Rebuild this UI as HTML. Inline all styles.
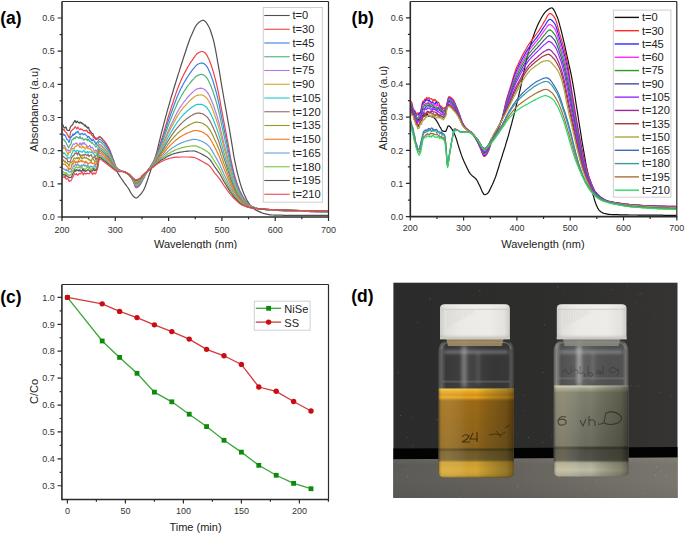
<!DOCTYPE html>
<html><head><meta charset="utf-8"><style>
html,body{margin:0;padding:0;background:#fff;}
body{width:685px;height:535px;position:relative;overflow:hidden;font-family:"Liberation Sans", sans-serif;}
</style></head><body>
<svg width="685" height="535" viewBox="0 0 685 535" style="position:absolute;left:0;top:0"><defs></defs><rect width="685" height="535" fill="#fff"/><g><g font-family='"Liberation Sans", sans-serif' font-weight="bold" font-size="17.5" fill="#000"><text x="0.2" y="23.8">(a)</text><text x="351.6" y="23.8">(b)</text><text x="0.2" y="302.6">(c)</text><text x="351.2" y="302.4">(d)</text></g><clipPath id="clipA"><rect x="62.5" y="2" width="265.7" height="214.3"/></clipPath><g clip-path="url(#clipA)" fill="none" stroke-width="1.2" stroke-linejoin="round"><path d="M62.0 123.5L62.5 124.3L63.1 125.4L63.6 126.9L64.1 127.6L64.7 128.0L65.2 128.0L65.7 126.9L66.3 127.6L66.8 129.7L67.3 130.3L67.9 130.3L68.4 130.4L68.9 130.7L69.5 130.3L70.0 128.1L70.5 127.0L71.1 126.2L71.6 125.6L72.1 125.3L72.7 124.6L73.2 123.3L73.7 122.4L74.3 121.7L74.8 120.6L75.3 120.8L75.9 122.4L76.4 122.7L76.9 121.4L77.5 121.2L78.0 122.2L78.5 122.8L79.1 122.6L79.6 123.0L80.1 122.1L80.7 122.4L81.2 123.3L81.7 122.6L82.3 123.3L82.8 124.2L83.3 124.1L83.9 124.4L84.4 125.6L84.9 126.0L85.5 125.0L86.0 126.4L86.5 127.2L87.1 126.8L87.6 128.2L88.1 127.6L88.7 127.4L89.2 130.0L89.7 131.1L90.2 130.8L90.8 131.7L91.3 132.4L91.8 133.1L92.4 133.7L92.9 133.5L93.4 135.1L94.0 136.6L94.5 137.2L95.0 137.9L95.6 138.8L96.1 139.6L96.6 139.2L97.2 138.2L97.7 138.4L98.2 137.8L98.8 137.1L99.3 136.7L99.8 136.8L100.4 137.1L100.9 137.4L101.4 137.9L102.0 138.5L102.5 139.1L103.0 139.8L103.6 140.4L104.1 141.0L104.6 141.7L105.2 142.4L105.7 143.1L106.2 143.9L106.8 144.8L107.3 145.7L107.8 146.7L108.4 147.6L108.9 148.7L109.4 149.8L110.0 150.9L110.5 152.2L111.0 153.5L111.6 154.9L112.1 156.4L112.6 157.9L113.2 159.4L113.7 160.9L114.2 162.7L114.8 164.6L115.3 166.6L116.4 169.9L117.4 172.2L118.5 174.2L119.6 175.9L120.6 177.5L121.7 179.0L122.8 180.7L123.8 182.2L124.9 183.6L126.0 185.1L127.0 186.5L128.1 188.0L129.2 189.7L130.2 191.6L131.3 193.5L132.4 195.2L133.4 196.3L134.5 197.3L135.6 198.0L136.6 198.0L137.7 197.3L138.8 196.2L139.8 195.1L140.9 194.0L141.9 192.6L143.0 191.0L144.1 189.1L145.1 186.7L146.2 183.8L147.3 180.8L148.3 177.6L149.4 174.2L150.5 171.0L151.5 168.2L152.6 165.3L153.7 162.2L154.7 159.1L155.8 155.6L156.9 151.7L157.9 147.3L159.0 142.8L160.1 138.4L161.1 134.2L162.2 130.0L163.3 125.9L164.3 121.8L165.4 117.8L166.5 113.9L167.5 110.1L168.6 106.3L169.7 102.6L170.7 98.9L171.8 95.3L172.9 91.7L173.9 88.2L175.0 84.7L176.1 81.2L177.1 77.8L178.2 74.4L179.3 71.1L180.3 67.7L181.4 64.3L182.5 61.0L183.5 57.7L184.6 54.5L185.7 51.2L186.7 48.0L187.8 44.8L188.9 41.7L189.9 38.8L191.0 36.2L192.1 33.8L193.1 31.4L194.2 29.1L195.2 27.0L196.3 25.2L197.4 23.8L198.4 22.8L199.5 22.0L200.6 21.2L201.6 20.7L202.7 20.3L203.8 20.4L204.8 21.1L205.9 22.2L207.0 23.7L208.0 25.3L209.1 27.2L210.2 29.7L211.2 32.7L212.3 36.2L213.4 39.9L214.4 44.3L215.5 49.6L216.6 55.5L217.6 61.6L218.7 67.7L219.8 73.9L220.8 80.4L221.9 86.8L223.0 93.0L224.0 99.0L225.1 104.9L226.2 110.9L227.2 116.9L228.3 122.9L229.4 129.0L230.4 135.2L231.5 141.6L232.6 148.3L233.6 154.8L234.7 160.6L235.8 165.7L236.8 170.5L237.9 174.8L239.0 178.9L240.0 182.6L241.1 186.1L242.2 189.3L243.2 192.1L244.3 194.7L245.4 197.1L246.4 199.3L247.5 201.2L248.6 202.9L249.6 204.4L250.7 205.7L251.7 206.9L252.8 207.9L253.9 208.8L254.9 209.5L256.0 210.1L257.1 210.6L258.1 211.1L259.2 211.6L260.3 212.1L261.3 212.6L262.4 213.0L263.5 213.4L264.5 213.7L265.6 213.9L266.7 214.2L267.7 214.4L268.8 214.6L269.9 214.8L270.9 214.9L272.0 215.0L273.1 215.0L274.1 215.1L275.2 215.1L277.3 215.1L279.5 215.2L281.6 215.2L283.7 215.3L285.9 215.3L288.0 215.3L290.1 215.3L292.3 215.3L294.4 215.3L296.5 215.3L298.7 215.3L300.8 215.3L302.9 215.3L305.0 215.3L307.2 215.3L309.3 215.3L311.4 215.3L313.6 215.3L315.7 215.3L317.8 215.3L320.0 215.3L322.1 215.3L324.2 215.3L326.4 215.3L328.5 215.3" stroke="#505050"/><path d="M62.0 128.2L62.5 129.8L63.1 130.1L63.6 129.0L64.1 129.6L64.7 130.7L65.2 131.6L65.7 132.2L66.3 132.5L66.8 133.2L67.3 134.8L67.9 135.1L68.4 136.2L68.9 137.6L69.5 137.8L70.0 135.4L70.5 132.2L71.1 131.3L71.6 130.5L72.1 130.1L72.7 129.5L73.2 129.1L73.7 128.9L74.3 128.3L74.8 127.0L75.3 126.6L75.9 127.5L76.4 128.3L76.9 128.8L77.5 127.7L78.0 127.2L78.5 128.3L79.1 128.9L79.6 129.7L80.1 129.7L80.7 128.7L81.2 129.0L81.7 129.7L82.3 129.7L82.8 129.7L83.3 130.6L83.9 131.0L84.4 130.8L84.9 130.4L85.5 130.6L86.0 131.0L86.5 130.0L87.1 130.8L87.6 132.3L88.1 132.3L88.7 132.3L89.2 133.3L89.7 133.4L90.2 132.1L90.8 132.9L91.3 134.6L91.8 135.5L92.4 135.7L92.9 136.3L93.4 137.7L94.0 136.9L94.5 137.6L95.0 138.4L95.6 137.6L96.1 138.5L96.6 139.2L97.2 138.0L97.7 139.1L98.2 138.3L98.8 137.5L99.3 137.1L99.8 137.1L100.4 137.4L100.9 137.7L101.4 138.1L102.0 138.7L102.5 139.2L103.0 139.8L103.6 140.4L104.1 141.0L104.6 141.7L105.2 142.3L105.7 143.1L106.2 143.9L106.8 144.8L107.3 145.7L107.8 146.6L108.4 147.6L108.9 148.7L109.4 149.8L110.0 151.0L110.5 152.4L111.0 153.8L111.6 155.2L112.1 156.7L112.6 158.2L113.2 159.6L113.7 160.9L114.2 162.3L114.8 163.8L115.3 165.2L116.4 167.2L117.4 168.4L118.5 169.3L119.6 169.9L120.6 170.5L121.7 170.9L122.8 171.3L123.8 171.8L124.9 172.4L126.0 173.0L127.0 173.6L128.1 174.4L129.2 175.4L130.2 176.6L131.3 178.0L132.4 179.6L133.4 181.7L134.5 184.8L135.6 187.4L136.6 187.7L137.7 187.2L138.8 186.3L139.8 185.2L140.9 183.6L141.9 181.5L143.0 179.5L144.1 177.6L145.1 175.5L146.2 173.5L147.3 171.5L148.3 169.7L149.4 168.1L150.5 166.4L151.5 164.7L152.6 162.9L153.7 161.0L154.7 158.8L155.8 156.2L156.9 153.4L157.9 150.5L159.0 147.5L160.1 144.3L161.1 141.0L162.2 137.5L163.3 134.1L164.3 130.5L165.4 126.8L166.5 123.1L167.5 119.4L168.6 115.8L169.7 112.4L170.7 109.1L171.8 105.8L172.9 102.6L173.9 99.3L175.0 96.1L176.1 92.9L177.1 90.0L178.2 87.2L179.3 84.5L180.3 81.9L181.4 79.5L182.5 77.2L183.5 75.0L184.6 72.9L185.7 70.9L186.7 68.9L187.8 67.1L188.9 65.3L189.9 63.5L191.0 61.8L192.1 60.3L193.1 58.8L194.2 57.3L195.2 55.9L196.3 54.5L197.4 53.5L198.4 52.8L199.5 52.3L200.6 51.8L201.6 51.5L202.7 51.5L203.8 52.0L204.8 52.8L205.9 53.8L207.0 55.3L208.0 57.4L209.1 59.8L210.2 62.4L211.2 65.3L212.3 68.6L213.4 72.0L214.4 75.8L215.5 79.8L216.6 84.1L217.6 88.8L218.7 93.8L219.8 99.4L220.8 105.4L221.9 111.3L223.0 117.0L224.0 122.5L225.1 128.0L226.2 133.5L227.2 139.1L228.3 144.9L229.4 151.0L230.4 157.0L231.5 162.3L232.6 167.1L233.6 171.6L234.7 175.7L235.8 179.5L236.8 182.8L237.9 185.7L239.0 188.4L240.0 190.9L241.1 193.1L242.2 195.2L243.2 197.1L244.3 198.8L245.4 200.4L246.4 201.8L247.5 203.0L248.6 204.2L249.6 205.1L250.7 205.7L251.7 206.3L252.8 206.7L253.9 207.1L254.9 207.5L256.0 207.9L257.1 208.2L258.1 208.5L259.2 208.7L260.3 208.9L261.3 209.1L262.4 209.2L263.5 209.4L264.5 209.5L265.6 209.6L266.7 209.8L267.7 209.9L268.8 210.0L269.9 210.0L270.9 210.1L272.0 210.2L273.1 210.2L274.1 210.3L275.2 210.4L277.3 210.5L279.5 210.6L281.6 210.7L283.7 210.8L285.9 210.8L288.0 210.9L290.1 211.0L292.3 211.1L294.4 211.1L296.5 211.2L298.7 211.3L300.8 211.4L302.9 211.4L305.0 211.5L307.2 211.5L309.3 211.6L311.4 211.7L313.6 211.7L315.7 211.8L317.8 211.8L320.0 211.9L322.1 211.9L324.2 212.0L326.4 212.0L328.5 212.0" stroke="#ee4048"/><path d="M62.0 133.6L62.5 133.9L63.1 133.8L63.6 134.8L64.1 135.3L64.7 134.7L65.2 135.5L65.7 136.4L66.3 138.0L66.8 139.3L67.3 139.4L67.9 139.9L68.4 140.9L68.9 142.4L69.5 141.7L70.0 139.0L70.5 137.3L71.1 136.6L71.6 137.1L72.1 135.8L72.7 134.1L73.2 135.5L73.7 134.7L74.3 133.6L74.8 134.3L75.3 133.7L75.9 132.2L76.4 132.2L76.9 132.9L77.5 131.8L78.0 131.2L78.5 132.5L79.1 133.7L79.6 134.4L80.1 134.8L80.7 133.9L81.2 133.4L81.7 133.7L82.3 133.4L82.8 134.1L83.3 134.8L83.9 134.1L84.4 133.9L84.9 133.9L85.5 134.3L86.0 135.3L86.5 135.6L87.1 136.2L87.6 137.7L88.1 137.0L88.7 136.4L89.2 136.9L89.7 138.2L90.2 138.9L90.8 138.6L91.3 139.3L91.8 140.6L92.4 140.7L92.9 139.3L93.4 139.4L94.0 140.9L94.5 141.8L95.0 141.7L95.6 143.8L96.1 144.7L96.6 142.8L97.2 142.0L97.7 142.1L98.2 141.1L98.8 139.9L99.3 139.4L99.8 139.4L100.4 139.6L100.9 140.0L101.4 140.4L102.0 140.9L102.5 141.5L103.0 142.1L103.6 142.7L104.1 143.2L104.6 143.8L105.2 144.5L105.7 145.2L106.2 146.0L106.8 146.8L107.3 147.6L107.8 148.5L108.4 149.5L108.9 150.4L109.4 151.5L110.0 152.6L110.5 153.9L111.0 155.2L111.6 156.5L112.1 157.9L112.6 159.3L113.2 160.6L113.7 161.8L114.2 163.1L114.8 164.4L115.3 165.7L116.4 167.7L117.4 168.7L118.5 169.5L119.6 170.1L120.6 170.6L121.7 171.0L122.8 171.3L123.8 171.8L124.9 172.3L126.0 172.9L127.0 173.6L128.1 174.3L129.2 175.2L130.2 176.4L131.3 177.8L132.4 179.4L133.4 181.3L134.5 184.2L135.6 186.6L136.6 186.9L137.7 186.4L138.8 185.5L139.8 184.5L140.9 182.9L141.9 181.0L143.0 179.0L144.1 177.2L145.1 175.2L146.2 173.3L147.3 171.5L148.3 169.8L149.4 168.2L150.5 166.7L151.5 165.1L152.6 163.4L153.7 161.6L154.7 159.5L155.8 157.2L156.9 154.6L157.9 151.9L159.0 149.1L160.1 146.2L161.1 143.1L162.2 140.0L163.3 136.9L164.3 133.6L165.4 130.3L166.5 126.9L167.5 123.5L168.6 120.3L169.7 117.2L170.7 114.2L171.8 111.2L172.9 108.3L173.9 105.4L175.0 102.5L176.1 99.6L177.1 97.0L178.2 94.5L179.3 92.1L180.3 89.8L181.4 87.6L182.5 85.6L183.5 83.6L184.6 81.7L185.7 79.9L186.7 78.1L187.8 76.5L188.9 74.9L189.9 73.3L191.0 71.8L192.1 70.4L193.1 69.1L194.2 67.8L195.2 66.5L196.3 65.4L197.4 64.5L198.4 64.0L199.5 63.5L200.6 63.2L201.6 63.0L202.7 63.1L203.8 63.6L204.8 64.3L205.9 65.3L207.0 66.6L208.0 68.6L209.1 70.9L210.2 73.3L211.2 76.1L212.3 79.1L213.4 82.4L214.4 85.9L215.5 89.6L216.6 93.7L217.6 97.9L218.7 102.6L219.8 107.8L220.8 113.3L221.9 118.7L223.0 124.0L224.0 129.1L225.1 134.2L226.2 139.2L227.2 144.4L228.3 149.8L229.4 155.4L230.4 160.9L231.5 165.8L232.6 170.2L233.6 174.3L234.7 178.2L235.8 181.6L236.8 184.7L237.9 187.4L239.0 190.0L240.0 192.2L241.1 194.3L242.2 196.2L243.2 198.0L244.3 199.6L245.4 201.0L246.4 202.3L247.5 203.5L248.6 204.5L249.6 205.3L250.7 205.9L251.7 206.4L252.8 206.9L253.9 207.3L254.9 207.6L256.0 208.0L257.1 208.3L258.1 208.5L259.2 208.7L260.3 208.9L261.3 209.1L262.4 209.2L263.5 209.4L264.5 209.5L265.6 209.6L266.7 209.7L267.7 209.8L268.8 209.9L269.9 210.0L270.9 210.0L272.0 210.1L273.1 210.2L274.1 210.2L275.2 210.3L277.3 210.4L279.5 210.5L281.6 210.6L283.7 210.7L285.9 210.8L288.0 210.8L290.1 210.9L292.3 211.0L294.4 211.1L296.5 211.1L298.7 211.2L300.8 211.3L302.9 211.3L305.0 211.4L307.2 211.5L309.3 211.5L311.4 211.6L313.6 211.6L315.7 211.7L317.8 211.7L320.0 211.8L322.1 211.8L324.2 211.9L326.4 211.9L328.5 211.9" stroke="#3a7fe6"/><path d="M62.0 137.1L62.5 137.8L63.1 139.8L63.6 140.0L64.1 139.7L64.7 140.3L65.2 141.7L65.7 141.9L66.3 143.2L66.8 144.6L67.3 145.1L67.9 146.6L68.4 147.9L68.9 147.2L69.5 145.9L70.0 144.8L70.5 144.6L71.1 143.6L71.6 141.1L72.1 139.6L72.7 139.2L73.2 139.4L73.7 138.4L74.3 137.7L74.8 138.5L75.3 138.5L75.9 137.0L76.4 136.5L76.9 136.8L77.5 137.3L78.0 137.6L78.5 137.8L79.1 138.6L79.6 136.9L80.1 136.4L80.7 138.3L81.2 138.8L81.7 138.5L82.3 137.8L82.8 138.4L83.3 140.2L83.9 140.2L84.4 139.4L84.9 139.3L85.5 138.8L86.0 138.9L86.5 139.4L87.1 140.4L87.6 140.7L88.1 139.0L88.7 139.4L89.2 140.7L89.7 141.3L90.2 140.8L90.8 141.7L91.3 143.1L91.8 142.7L92.4 142.5L92.9 143.4L93.4 144.1L94.0 144.6L94.5 145.2L95.0 145.7L95.6 146.9L96.1 147.1L96.6 145.9L97.2 146.0L97.7 145.1L98.2 143.8L98.8 142.4L99.3 141.6L99.8 141.7L100.4 141.9L100.9 142.3L101.4 142.7L102.0 143.2L102.5 143.7L103.0 144.3L103.6 144.9L104.1 145.4L104.6 146.0L105.2 146.6L105.7 147.3L106.2 148.0L106.8 148.8L107.3 149.6L107.8 150.4L108.4 151.3L108.9 152.2L109.4 153.2L110.0 154.3L110.5 155.4L111.0 156.6L111.6 157.8L112.1 159.1L112.6 160.3L113.2 161.5L113.7 162.7L114.2 163.9L114.8 165.1L115.3 166.3L116.4 168.1L117.4 169.1L118.5 169.7L119.6 170.3L120.6 170.7L121.7 171.0L122.8 171.4L123.8 171.8L124.9 172.3L126.0 172.9L127.0 173.5L128.1 174.3L129.2 175.1L130.2 176.3L131.3 177.6L132.4 179.2L133.4 181.0L134.5 183.6L135.6 185.8L136.6 186.1L137.7 185.6L138.8 184.7L139.8 183.8L140.9 182.2L141.9 180.4L143.0 178.5L144.1 176.8L145.1 175.0L146.2 173.2L147.3 171.4L148.3 169.8L149.4 168.4L150.5 167.0L151.5 165.5L152.6 163.9L153.7 162.2L154.7 160.3L155.8 158.1L156.9 155.7L157.9 153.2L159.0 150.7L160.1 148.0L161.1 145.3L162.2 142.5L163.3 139.7L164.3 136.7L165.4 133.7L166.5 130.7L167.5 127.7L168.6 124.8L169.7 122.0L170.7 119.3L171.8 116.7L172.9 114.1L173.9 111.5L175.0 108.9L176.1 106.4L177.1 104.0L178.2 101.8L179.3 99.7L180.3 97.7L181.4 95.7L182.5 93.9L183.5 92.2L184.6 90.5L185.7 88.9L186.7 87.4L187.8 85.9L188.9 84.5L189.9 83.1L191.0 81.8L192.1 80.5L193.1 79.4L194.2 78.3L195.2 77.2L196.3 76.2L197.4 75.5L198.4 75.1L199.5 74.8L200.6 74.5L201.6 74.4L202.7 74.6L203.8 75.1L204.8 75.9L205.9 76.8L207.0 78.0L208.0 79.8L209.1 82.0L210.2 84.2L211.2 86.8L212.3 89.7L213.4 92.8L214.4 96.0L215.5 99.5L216.6 103.2L217.6 107.1L218.7 111.4L219.8 116.1L220.8 121.1L221.9 126.2L223.0 131.0L224.0 135.7L225.1 140.4L226.2 145.0L227.2 149.8L228.3 154.7L229.4 159.8L230.4 164.8L231.5 169.3L232.6 173.3L233.6 177.1L234.7 180.6L235.8 183.8L236.8 186.6L237.9 189.2L239.0 191.5L240.0 193.6L241.1 195.5L242.2 197.2L243.2 198.8L244.3 200.3L245.4 201.6L246.4 202.8L247.5 203.9L248.6 204.8L249.6 205.6L250.7 206.2L251.7 206.6L252.8 207.0L253.9 207.4L254.9 207.7L256.0 208.0L257.1 208.3L258.1 208.5L259.2 208.7L260.3 208.9L261.3 209.1L262.4 209.2L263.5 209.3L264.5 209.4L265.6 209.6L266.7 209.7L267.7 209.8L268.8 209.8L269.9 209.9L270.9 210.0L272.0 210.0L273.1 210.1L274.1 210.2L275.2 210.2L277.3 210.3L279.5 210.4L281.6 210.5L283.7 210.6L285.9 210.7L288.0 210.7L290.1 210.8L292.3 210.9L294.4 211.0L296.5 211.0L298.7 211.1L300.8 211.2L302.9 211.2L305.0 211.3L307.2 211.4L309.3 211.4L311.4 211.5L313.6 211.5L315.7 211.6L317.8 211.6L320.0 211.7L322.1 211.7L324.2 211.8L326.4 211.8L328.5 211.8" stroke="#4fb27a"/><path d="M62.0 144.8L62.5 145.2L63.1 145.5L63.6 145.8L64.1 145.6L64.7 145.9L65.2 147.2L65.7 148.4L66.3 149.1L66.8 149.6L67.3 150.5L67.9 150.1L68.4 150.5L68.9 151.1L69.5 150.8L70.0 150.3L70.5 149.4L71.1 148.5L71.6 147.0L72.1 146.5L72.7 145.3L73.2 143.9L73.7 144.5L74.3 144.2L74.8 143.9L75.3 143.4L75.9 143.5L76.4 143.0L76.9 143.1L77.5 145.2L78.0 145.3L78.5 145.3L79.1 145.0L79.6 143.3L80.1 143.0L80.7 144.4L81.2 145.3L81.7 143.6L82.3 143.0L82.8 144.2L83.3 143.8L83.9 142.5L84.4 142.5L84.9 144.0L85.5 144.7L86.0 144.6L86.5 145.4L87.1 146.6L87.6 146.4L88.1 146.5L88.7 146.8L89.2 146.4L89.7 145.3L90.2 146.1L90.8 147.8L91.3 147.6L91.8 147.6L92.4 147.2L92.9 148.0L93.4 149.4L94.0 150.6L94.5 151.1L95.0 150.3L95.6 150.1L96.1 151.2L96.6 151.3L97.2 150.1L97.7 148.7L98.2 147.1L98.8 145.4L99.3 144.4L99.8 144.5L100.4 144.7L100.9 145.0L101.4 145.4L102.0 145.9L102.5 146.4L103.0 147.0L103.6 147.5L104.1 148.0L104.6 148.6L105.2 149.2L105.7 149.8L106.2 150.5L106.8 151.2L107.3 151.9L107.8 152.7L108.4 153.5L108.9 154.3L109.4 155.2L110.0 156.2L110.5 157.2L111.0 158.3L111.6 159.4L112.1 160.5L112.6 161.6L113.2 162.7L113.7 163.7L114.2 164.8L114.8 165.9L115.3 167.0L116.4 168.6L117.4 169.5L118.5 170.0L119.6 170.5L120.6 170.8L121.7 171.1L122.8 171.4L123.8 171.8L124.9 172.2L126.0 172.8L127.0 173.4L128.1 174.1L129.2 175.0L130.2 176.1L131.3 177.4L132.4 178.9L133.4 180.5L134.5 182.9L135.6 184.8L136.6 185.1L137.7 184.6L138.8 183.8L139.8 182.9L140.9 181.4L141.9 179.7L143.0 178.0L144.1 176.3L145.1 174.7L146.2 173.0L147.3 171.4L148.3 169.9L149.4 168.6L150.5 167.3L151.5 165.9L152.6 164.5L153.7 162.9L154.7 161.2L155.8 159.2L156.9 157.1L157.9 154.9L159.0 152.6L160.1 150.3L161.1 147.9L162.2 145.5L163.3 143.0L164.3 140.5L165.4 137.9L166.5 135.3L167.5 132.7L168.6 130.2L169.7 127.8L170.7 125.5L171.8 123.2L172.9 121.0L173.9 118.8L175.0 116.6L176.1 114.5L177.1 112.5L178.2 110.6L179.3 108.8L180.3 107.1L181.4 105.5L182.5 104.0L183.5 102.5L184.6 101.1L185.7 99.8L186.7 98.5L187.8 97.2L188.9 96.0L189.9 94.9L191.0 93.8L192.1 92.8L193.1 91.8L194.2 90.9L195.2 90.1L196.3 89.3L197.4 88.8L198.4 88.6L199.5 88.4L200.6 88.2L201.6 88.3L202.7 88.5L203.8 89.0L204.8 89.8L205.9 90.6L207.0 91.8L208.0 93.4L209.1 95.3L210.2 97.4L211.2 99.8L212.3 102.4L213.4 105.3L214.4 108.2L215.5 111.4L216.6 114.7L217.6 118.2L218.7 122.0L219.8 126.2L220.8 130.6L221.9 135.1L223.0 139.5L224.0 143.7L225.1 147.8L226.2 152.0L227.2 156.2L228.3 160.6L229.4 165.1L230.4 169.5L231.5 173.5L232.6 177.1L233.6 180.4L234.7 183.6L235.8 186.4L236.8 188.9L237.9 191.2L239.0 193.3L240.0 195.2L241.1 196.9L242.2 198.5L243.2 199.9L244.3 201.2L245.4 202.4L246.4 203.4L247.5 204.4L248.6 205.3L249.6 205.9L250.7 206.4L251.7 206.9L252.8 207.2L253.9 207.5L254.9 207.8L256.0 208.1L257.1 208.4L258.1 208.6L259.2 208.7L260.3 208.9L261.3 209.0L262.4 209.2L263.5 209.3L264.5 209.4L265.6 209.5L266.7 209.6L267.7 209.7L268.8 209.8L269.9 209.8L270.9 209.9L272.0 210.0L273.1 210.0L274.1 210.1L275.2 210.1L277.3 210.2L279.5 210.3L281.6 210.4L283.7 210.5L285.9 210.6L288.0 210.6L290.1 210.7L292.3 210.8L294.4 210.9L296.5 210.9L298.7 211.0L300.8 211.1L302.9 211.1L305.0 211.2L307.2 211.2L309.3 211.3L311.4 211.4L313.6 211.4L315.7 211.5L317.8 211.5L320.0 211.5L322.1 211.6L324.2 211.6L326.4 211.7L328.5 211.7" stroke="#b07ae8"/><path d="M62.0 146.7L62.5 148.1L63.1 147.8L63.6 147.4L64.1 148.8L64.7 147.8L65.2 148.3L65.7 149.7L66.3 151.7L66.8 152.2L67.3 152.6L67.9 155.2L68.4 153.8L68.9 152.2L69.5 152.6L70.0 152.8L70.5 152.0L71.1 149.4L71.6 148.3L72.1 148.3L72.7 149.0L73.2 148.4L73.7 148.3L74.3 148.6L74.8 146.9L75.3 146.5L75.9 146.6L76.4 146.2L76.9 145.1L77.5 144.4L78.0 145.6L78.5 145.8L79.1 146.3L79.6 147.3L80.1 146.4L80.7 146.9L81.2 147.7L81.7 147.8L82.3 147.7L82.8 146.0L83.3 146.6L83.9 147.6L84.4 147.8L84.9 148.7L85.5 149.0L86.0 147.7L86.5 145.8L87.1 146.5L87.6 148.5L88.1 148.6L88.7 148.5L89.2 148.7L89.7 148.5L90.2 149.1L90.8 149.1L91.3 149.9L91.8 150.7L92.4 151.6L92.9 151.9L93.4 152.0L94.0 152.3L94.5 152.4L95.0 152.6L95.6 152.1L96.1 153.2L96.6 153.8L97.2 152.8L97.7 150.5L98.2 148.8L98.8 146.8L99.3 145.7L99.8 145.8L100.4 146.0L100.9 146.3L101.4 146.8L102.0 147.2L102.5 147.7L103.0 148.3L103.6 148.8L104.1 149.3L104.6 149.9L105.2 150.4L105.7 151.0L106.2 151.7L106.8 152.4L107.3 153.1L107.8 153.8L108.4 154.6L108.9 155.4L109.4 156.2L110.0 157.1L110.5 158.1L111.0 159.1L111.6 160.2L112.1 161.2L112.6 162.3L113.2 163.3L113.7 164.2L114.2 165.2L114.8 166.3L115.3 167.3L116.4 168.8L117.4 169.6L118.5 170.2L119.6 170.6L120.6 170.9L121.7 171.2L122.8 171.4L123.8 171.8L124.9 172.2L126.0 172.8L127.0 173.4L128.1 174.1L129.2 174.9L130.2 176.0L131.3 177.3L132.4 178.8L133.4 180.3L134.5 182.6L135.6 184.4L136.6 184.6L137.7 184.1L138.8 183.3L139.8 182.4L140.9 181.0L141.9 179.3L143.0 177.7L144.1 176.1L145.1 174.5L146.2 172.9L147.3 171.4L148.3 170.0L149.4 168.7L150.5 167.5L151.5 166.1L152.6 164.8L153.7 163.3L154.7 161.6L155.8 159.7L156.9 157.7L157.9 155.7L159.0 153.6L160.1 151.4L161.1 149.2L162.2 146.9L163.3 144.7L164.3 142.3L165.4 139.9L166.5 137.5L167.5 135.1L168.6 132.8L169.7 130.6L170.7 128.5L171.8 126.4L172.9 124.4L173.9 122.4L175.0 120.4L176.1 118.4L177.1 116.6L178.2 114.9L179.3 113.3L180.3 111.7L181.4 110.3L182.5 108.9L183.5 107.5L184.6 106.3L185.7 105.1L186.7 103.9L187.8 102.8L188.9 101.7L189.9 100.7L191.0 99.7L192.1 98.7L193.1 97.9L194.2 97.1L195.2 96.3L196.3 95.7L197.4 95.3L198.4 95.1L199.5 95.0L200.6 94.9L201.6 95.0L202.7 95.3L203.8 95.8L204.8 96.5L205.9 97.4L207.0 98.5L208.0 100.0L209.1 101.8L210.2 103.8L211.2 106.1L212.3 108.6L213.4 111.4L214.4 114.2L215.5 117.1L216.6 120.3L217.6 123.6L218.7 127.1L219.8 131.1L220.8 135.2L221.9 139.5L223.0 143.6L224.0 147.6L225.1 151.5L226.2 155.4L227.2 159.4L228.3 163.5L229.4 167.7L230.4 171.8L231.5 175.5L232.6 178.9L233.6 182.0L234.7 185.0L235.8 187.7L236.8 190.1L237.9 192.2L239.0 194.2L240.0 196.0L241.1 197.6L242.2 199.1L243.2 200.4L244.3 201.7L245.4 202.8L246.4 203.7L247.5 204.7L248.6 205.5L249.6 206.1L250.7 206.6L251.7 207.0L252.8 207.3L253.9 207.6L254.9 207.9L256.0 208.1L257.1 208.4L258.1 208.6L259.2 208.8L260.3 208.9L261.3 209.0L262.4 209.2L263.5 209.3L264.5 209.4L265.6 209.5L266.7 209.6L267.7 209.7L268.8 209.7L269.9 209.8L270.9 209.9L272.0 209.9L273.1 210.0L274.1 210.0L275.2 210.1L277.3 210.2L279.5 210.3L281.6 210.4L283.7 210.4L285.9 210.5L288.0 210.6L290.1 210.7L292.3 210.7L294.4 210.8L296.5 210.9L298.7 210.9L300.8 211.0L302.9 211.1L305.0 211.1L307.2 211.2L309.3 211.2L311.4 211.3L313.6 211.3L315.7 211.4L317.8 211.4L320.0 211.5L322.1 211.5L324.2 211.6L326.4 211.6L328.5 211.6" stroke="#d8a030"/><path d="M62.0 151.9L62.5 152.1L63.1 152.4L63.6 153.9L64.1 153.5L64.7 152.9L65.2 154.1L65.7 154.7L66.3 155.3L66.8 155.6L67.3 156.9L67.9 158.3L68.4 158.0L68.9 157.8L69.5 158.0L70.0 157.8L70.5 157.1L71.1 155.8L71.6 153.6L72.1 153.1L72.7 152.1L73.2 150.2L73.7 150.6L74.3 150.1L74.8 150.3L75.3 151.7L75.9 151.7L76.4 150.9L76.9 150.5L77.5 150.6L78.0 150.5L78.5 151.5L79.1 151.4L79.6 151.0L80.1 151.7L80.7 151.2L81.2 151.6L81.7 152.2L82.3 152.1L82.8 151.4L83.3 150.6L83.9 150.3L84.4 151.4L84.9 152.3L85.5 152.4L86.0 151.8L86.5 152.6L87.1 152.3L87.6 151.5L88.1 152.9L88.7 152.5L89.2 151.7L89.7 151.9L90.2 152.0L90.8 152.4L91.3 152.5L91.8 152.0L92.4 153.0L92.9 153.1L93.4 153.2L94.0 154.3L94.5 155.3L95.0 155.8L95.6 155.1L96.1 155.8L96.6 155.6L97.2 153.9L97.7 153.0L98.2 151.0L98.8 148.9L99.3 147.6L99.8 147.7L100.4 147.9L100.9 148.2L101.4 148.6L102.0 149.1L102.5 149.6L103.0 150.1L103.6 150.6L104.1 151.1L104.6 151.6L105.2 152.2L105.7 152.8L106.2 153.4L106.8 154.0L107.3 154.7L107.8 155.4L108.4 156.1L108.9 156.8L109.4 157.6L110.0 158.5L110.5 159.4L111.0 160.3L111.6 161.2L112.1 162.2L112.6 163.2L113.2 164.1L113.7 164.9L114.2 165.9L114.8 166.8L115.3 167.8L116.4 169.2L117.4 169.9L118.5 170.4L119.6 170.7L120.6 171.0L121.7 171.2L122.8 171.4L123.8 171.7L124.9 172.2L126.0 172.7L127.0 173.3L128.1 174.0L129.2 174.8L130.2 175.9L131.3 177.2L132.4 178.6L133.4 180.0L134.5 182.1L135.6 183.7L136.6 183.9L137.7 183.4L138.8 182.7L139.8 181.8L140.9 180.5L141.9 178.8L143.0 177.3L144.1 175.8L145.1 174.3L146.2 172.8L147.3 171.4L148.3 170.1L149.4 168.9L150.5 167.7L151.5 166.5L152.6 165.2L153.7 163.8L154.7 162.2L155.8 160.5L156.9 158.7L157.9 156.8L159.0 154.9L160.1 153.0L161.1 151.0L162.2 149.0L163.3 146.9L164.3 144.9L165.4 142.8L166.5 140.6L167.5 138.5L168.6 136.5L169.7 134.6L170.7 132.7L171.8 130.9L172.9 129.1L173.9 127.4L175.0 125.6L176.1 124.0L177.1 122.4L178.2 121.0L179.3 119.6L180.3 118.2L181.4 116.9L182.5 115.7L183.5 114.6L184.6 113.5L185.7 112.5L186.7 111.5L187.8 110.5L188.9 109.6L189.9 108.7L191.0 107.9L192.1 107.1L193.1 106.4L194.2 105.7L195.2 105.1L196.3 104.7L197.4 104.4L198.4 104.3L199.5 104.3L200.6 104.3L201.6 104.4L202.7 104.7L203.8 105.3L204.8 106.0L205.9 106.8L207.0 107.8L208.0 109.3L209.1 110.9L210.2 112.8L211.2 114.9L212.3 117.3L213.4 119.9L214.4 122.5L215.5 125.2L216.6 128.1L217.6 131.1L218.7 134.4L219.8 137.9L220.8 141.7L221.9 145.6L223.0 149.4L224.0 153.0L225.1 156.6L226.2 160.2L227.2 163.8L228.3 167.5L229.4 171.4L230.4 175.1L231.5 178.4L232.6 181.5L233.6 184.3L234.7 187.0L235.8 189.5L236.8 191.6L237.9 193.6L239.0 195.5L240.0 197.1L241.1 198.6L242.2 199.9L243.2 201.2L244.3 202.3L245.4 203.3L246.4 204.2L247.5 205.0L248.6 205.7L249.6 206.3L250.7 206.8L251.7 207.1L252.8 207.4L253.9 207.7L254.9 208.0L256.0 208.2L257.1 208.4L258.1 208.6L259.2 208.8L260.3 208.9L261.3 209.0L262.4 209.1L263.5 209.3L264.5 209.4L265.6 209.4L266.7 209.5L267.7 209.6L268.8 209.7L269.9 209.8L270.9 209.8L272.0 209.9L273.1 209.9L274.1 210.0L275.2 210.0L277.3 210.1L279.5 210.2L281.6 210.3L283.7 210.4L285.9 210.5L288.0 210.5L290.1 210.6L292.3 210.7L294.4 210.7L296.5 210.8L298.7 210.9L300.8 210.9L302.9 211.0L305.0 211.0L307.2 211.1L309.3 211.2L311.4 211.2L313.6 211.3L315.7 211.3L317.8 211.4L320.0 211.4L322.1 211.4L324.2 211.5L326.4 211.5L328.5 211.5" stroke="#20c8d2"/><path d="M62.0 156.1L62.5 157.0L63.1 156.9L63.6 156.5L64.1 157.1L64.7 157.7L65.2 158.2L65.7 158.8L66.3 159.0L66.8 158.2L67.3 160.3L67.9 161.9L68.4 161.6L68.9 161.6L69.5 161.8L70.0 161.7L70.5 160.9L71.1 159.4L71.6 157.7L72.1 157.1L72.7 156.1L73.2 155.4L73.7 155.7L74.3 154.6L74.8 153.2L75.3 153.6L75.9 153.2L76.4 152.5L76.9 153.7L77.5 155.0L78.0 153.5L78.5 152.3L79.1 153.7L79.6 155.3L80.1 155.3L80.7 154.9L81.2 155.5L81.7 155.3L82.3 155.1L82.8 155.9L83.3 154.7L83.9 154.5L84.4 155.2L84.9 154.5L85.5 154.1L86.0 154.8L86.5 155.3L87.1 155.7L87.6 154.9L88.1 154.2L88.7 156.0L89.2 156.5L89.7 155.6L90.2 155.5L90.8 155.0L91.3 154.6L91.8 156.2L92.4 157.2L92.9 157.8L93.4 157.8L94.0 157.2L94.5 156.1L95.0 156.3L95.6 159.3L96.1 159.8L96.6 158.3L97.2 157.7L97.7 155.4L98.2 153.2L98.8 150.8L99.3 149.5L99.8 149.5L100.4 149.7L100.9 150.0L101.4 150.4L102.0 150.9L102.5 151.4L103.0 151.9L103.6 152.4L104.1 152.9L104.6 153.4L105.2 153.9L105.7 154.4L106.2 155.0L106.8 155.6L107.3 156.2L107.8 156.9L108.4 157.6L108.9 158.2L109.4 159.0L110.0 159.7L110.5 160.6L111.0 161.4L111.6 162.3L112.1 163.1L112.6 164.0L113.2 164.8L113.7 165.6L114.2 166.5L114.8 167.3L115.3 168.2L116.4 169.5L117.4 170.2L118.5 170.6L119.6 170.9L120.6 171.1L121.7 171.3L122.8 171.5L123.8 171.7L124.9 172.1L126.0 172.7L127.0 173.3L128.1 173.9L129.2 174.7L130.2 175.8L131.3 177.1L132.4 178.4L133.4 179.8L134.5 181.6L135.6 183.1L136.6 183.2L137.7 182.8L138.8 182.1L139.8 181.2L140.9 179.9L141.9 178.4L143.0 176.9L144.1 175.5L145.1 174.1L146.2 172.7L147.3 171.3L148.3 170.1L149.4 169.0L150.5 167.9L151.5 166.8L152.6 165.6L153.7 164.3L154.7 162.8L155.8 161.2L156.9 159.6L157.9 157.9L159.0 156.2L160.1 154.4L161.1 152.7L162.2 150.9L163.3 149.2L164.3 147.4L165.4 145.5L166.5 143.6L167.5 141.8L168.6 140.1L169.7 138.4L170.7 136.8L171.8 135.2L172.9 133.7L173.9 132.2L175.0 130.7L176.1 129.3L177.1 128.0L178.2 126.8L179.3 125.6L180.3 124.5L181.4 123.4L182.5 122.4L183.5 121.4L184.6 120.5L185.7 119.6L186.7 118.8L187.8 118.0L188.9 117.2L189.9 116.5L191.0 115.8L192.1 115.2L193.1 114.6L194.2 114.0L195.2 113.6L196.3 113.3L197.4 113.1L198.4 113.2L199.5 113.2L200.6 113.3L201.6 113.5L202.7 113.9L203.8 114.5L204.8 115.2L205.9 115.9L207.0 116.9L208.0 118.2L209.1 119.7L210.2 121.4L211.2 123.5L212.3 125.7L213.4 128.1L214.4 130.6L215.5 133.1L216.6 135.7L217.6 138.4L218.7 141.3L219.8 144.6L220.8 148.0L221.9 151.5L223.0 154.9L224.0 158.3L225.1 161.5L226.2 164.8L227.2 168.0L228.3 171.4L229.4 174.8L230.4 178.2L231.5 181.2L232.6 183.9L233.6 186.5L234.7 188.9L235.8 191.2L236.8 193.2L237.9 195.0L239.0 196.7L240.0 198.2L241.1 199.6L242.2 200.8L243.2 201.9L244.3 202.9L245.4 203.8L246.4 204.6L247.5 205.3L248.6 206.0L249.6 206.5L250.7 206.9L251.7 207.3L252.8 207.5L253.9 207.8L254.9 208.0L256.0 208.3L257.1 208.5L258.1 208.6L259.2 208.8L260.3 208.9L261.3 209.0L262.4 209.1L263.5 209.2L264.5 209.3L265.6 209.4L266.7 209.5L267.7 209.6L268.8 209.6L269.9 209.7L270.9 209.8L272.0 209.8L273.1 209.9L274.1 209.9L275.2 210.0L277.3 210.1L279.5 210.2L281.6 210.2L283.7 210.3L285.9 210.4L288.0 210.5L290.1 210.5L292.3 210.6L294.4 210.7L296.5 210.7L298.7 210.8L300.8 210.8L302.9 210.9L305.0 211.0L307.2 211.0L309.3 211.1L311.4 211.1L313.6 211.2L315.7 211.2L317.8 211.3L320.0 211.3L322.1 211.4L324.2 211.4L326.4 211.4L328.5 211.5" stroke="#946a6a"/><path d="M62.0 160.2L62.5 160.5L63.1 160.9L63.6 159.9L64.1 160.9L64.7 162.1L65.2 161.2L65.7 162.3L66.3 163.0L66.8 162.7L67.3 163.2L67.9 164.1L68.4 164.4L68.9 166.1L69.5 165.7L70.0 162.8L70.5 162.3L71.1 162.1L71.6 162.4L72.1 162.0L72.7 160.8L73.2 160.3L73.7 158.4L74.3 157.9L74.8 158.2L75.3 158.8L75.9 158.8L76.4 157.7L76.9 158.1L77.5 158.6L78.0 157.2L78.5 157.5L79.1 159.3L79.6 159.1L80.1 157.8L80.7 156.2L81.2 156.7L81.7 158.4L82.3 158.9L82.8 157.9L83.3 158.2L83.9 158.1L84.4 156.8L84.9 157.7L85.5 158.2L86.0 157.9L86.5 157.5L87.1 158.6L87.6 158.9L88.1 158.7L88.7 159.9L89.2 159.8L89.7 159.6L90.2 160.3L90.8 161.2L91.3 161.3L91.8 159.7L92.4 158.1L92.9 158.7L93.4 159.3L94.0 160.2L94.5 161.1L95.0 160.8L95.6 161.5L96.1 162.3L96.6 161.2L97.2 159.9L97.7 157.9L98.2 155.5L98.8 152.9L99.3 151.3L99.8 151.4L100.4 151.6L100.9 151.9L101.4 152.3L102.0 152.7L102.5 153.2L103.0 153.7L103.6 154.2L104.1 154.7L104.6 155.1L105.2 155.6L105.7 156.1L106.2 156.7L106.8 157.3L107.3 157.9L107.8 158.5L108.4 159.1L108.9 159.7L109.4 160.4L110.0 161.1L110.5 161.8L111.0 162.6L111.6 163.3L112.1 164.1L112.6 164.9L113.2 165.6L113.7 166.4L114.2 167.1L114.8 167.9L115.3 168.7L116.4 169.9L117.4 170.5L118.5 170.8L119.6 171.0L120.6 171.2L121.7 171.3L122.8 171.5L123.8 171.7L124.9 172.1L126.0 172.6L127.0 173.2L128.1 173.9L129.2 174.6L130.2 175.7L131.3 176.9L132.4 178.2L133.4 179.5L134.5 181.1L135.6 182.4L136.6 182.6L137.7 182.1L138.8 181.4L139.8 180.6L140.9 179.4L141.9 177.9L143.0 176.5L144.1 175.2L145.1 173.9L146.2 172.6L147.3 171.3L148.3 170.2L149.4 169.1L150.5 168.1L151.5 167.1L152.6 166.0L153.7 164.8L154.7 163.4L155.8 162.0L156.9 160.5L157.9 159.0L159.0 157.5L160.1 156.0L161.1 154.5L162.2 153.0L163.3 151.5L164.3 149.9L165.4 148.3L166.5 146.8L167.5 145.2L168.6 143.7L169.7 142.4L170.7 141.0L171.8 139.7L172.9 138.4L173.9 137.2L175.0 136.0L176.1 134.9L177.1 133.8L178.2 132.8L179.3 131.8L180.3 130.9L181.4 130.1L182.5 129.2L183.5 128.5L184.6 127.7L185.7 127.0L186.7 126.4L187.8 125.7L188.9 125.1L189.9 124.6L191.0 124.0L192.1 123.5L193.1 123.0L194.2 122.6L195.2 122.4L196.3 122.2L197.4 122.2L198.4 122.4L199.5 122.5L200.6 122.7L201.6 123.0L202.7 123.4L203.8 124.0L204.8 124.7L205.9 125.4L207.0 126.3L208.0 127.4L209.1 128.8L210.2 130.4L211.2 132.3L212.3 134.4L213.4 136.7L214.4 138.9L215.5 141.2L216.6 143.5L217.6 146.0L218.7 148.6L219.8 151.4L220.8 154.5L221.9 157.6L223.0 160.7L224.0 163.7L225.1 166.6L226.2 169.5L227.2 172.4L228.3 175.4L229.4 178.5L230.4 181.4L231.5 184.1L232.6 186.5L233.6 188.8L234.7 190.9L235.8 192.9L236.8 194.8L237.9 196.4L239.0 197.9L240.0 199.3L241.1 200.5L242.2 201.6L243.2 202.6L244.3 203.5L245.4 204.3L246.4 205.0L247.5 205.7L248.6 206.3L249.6 206.8L250.7 207.1L251.7 207.4L252.8 207.7L253.9 207.9L254.9 208.1L256.0 208.3L257.1 208.5L258.1 208.7L259.2 208.8L260.3 208.9L261.3 209.0L262.4 209.1L263.5 209.2L264.5 209.3L265.6 209.4L266.7 209.5L267.7 209.5L268.8 209.6L269.9 209.7L270.9 209.7L272.0 209.8L273.1 209.8L274.1 209.9L275.2 209.9L277.3 210.0L279.5 210.1L281.6 210.2L283.7 210.2L285.9 210.3L288.0 210.4L290.1 210.5L292.3 210.5L294.4 210.6L296.5 210.6L298.7 210.7L300.8 210.8L302.9 210.8L305.0 210.9L307.2 210.9L309.3 211.0L311.4 211.1L313.6 211.1L315.7 211.2L317.8 211.2L320.0 211.2L322.1 211.3L324.2 211.3L326.4 211.3L328.5 211.4" stroke="#9c9828"/><path d="M62.0 163.2L62.5 163.1L63.1 163.9L63.6 164.4L64.1 164.5L64.7 164.2L65.2 164.3L65.7 165.1L66.3 165.7L66.8 166.3L67.3 166.6L67.9 167.2L68.4 169.7L68.9 169.3L69.5 168.1L70.0 169.2L70.5 168.8L71.1 167.7L71.6 165.3L72.1 163.4L72.7 164.6L73.2 163.8L73.7 162.2L74.3 160.8L74.8 160.8L75.3 163.2L75.9 162.6L76.4 161.5L76.9 161.8L77.5 162.9L78.0 162.5L78.5 160.3L79.1 161.7L79.6 162.0L80.1 161.3L80.7 160.6L81.2 160.1L81.7 161.6L82.3 161.2L82.8 160.8L83.3 161.9L83.9 161.8L84.4 161.8L84.9 163.3L85.5 161.9L86.0 161.2L86.5 162.8L87.1 162.4L87.6 163.1L88.1 164.1L88.7 163.6L89.2 163.2L89.7 163.0L90.2 162.1L90.8 162.5L91.3 163.0L91.8 162.5L92.4 163.5L92.9 163.7L93.4 163.8L94.0 163.4L94.5 162.7L95.0 163.4L95.6 164.5L96.1 164.4L96.6 163.7L97.2 162.3L97.7 160.2L98.2 157.6L98.8 154.7L99.3 153.1L99.8 153.2L100.4 153.4L100.9 153.7L101.4 154.0L102.0 154.5L102.5 154.9L103.0 155.4L103.6 155.9L104.1 156.3L104.6 156.8L105.2 157.3L105.7 157.7L106.2 158.3L106.8 158.8L107.3 159.3L107.8 159.9L108.4 160.5L108.9 161.1L109.4 161.7L110.0 162.3L110.5 163.0L111.0 163.6L111.6 164.3L112.1 165.0L112.6 165.7L113.2 166.4L113.7 167.0L114.2 167.7L114.8 168.4L115.3 169.1L116.4 170.2L117.4 170.7L118.5 170.9L119.6 171.1L120.6 171.3L121.7 171.4L122.8 171.5L123.8 171.7L124.9 172.1L126.0 172.6L127.0 173.2L128.1 173.8L129.2 174.5L130.2 175.6L131.3 176.8L132.4 178.0L133.4 179.2L134.5 180.7L135.6 181.8L136.6 181.9L137.7 181.5L138.8 180.8L139.8 180.0L140.9 178.9L141.9 177.5L143.0 176.1L144.1 174.9L145.1 173.6L146.2 172.4L147.3 171.3L148.3 170.2L149.4 169.3L150.5 168.3L151.5 167.4L152.6 166.3L153.7 165.2L154.7 164.0L155.8 162.7L156.9 161.4L157.9 160.0L159.0 158.7L160.1 157.4L161.1 156.1L162.2 154.9L163.3 153.6L164.3 152.3L165.4 151.0L166.5 149.7L167.5 148.4L168.6 147.2L169.7 146.0L170.7 144.9L171.8 143.9L172.9 142.8L173.9 141.8L175.0 140.9L176.1 140.0L177.1 139.2L178.2 138.4L179.3 137.6L180.3 136.9L181.4 136.3L182.5 135.6L183.5 135.0L184.6 134.5L185.7 133.9L186.7 133.4L187.8 132.9L188.9 132.5L189.9 132.0L191.0 131.6L192.1 131.3L193.1 130.9L194.2 130.7L195.2 130.5L196.3 130.5L197.4 130.6L198.4 130.9L199.5 131.1L200.6 131.4L201.6 131.7L202.7 132.2L203.8 132.8L204.8 133.5L205.9 134.2L207.0 135.0L208.0 136.0L209.1 137.3L210.2 138.8L211.2 140.5L212.3 142.5L213.4 144.6L214.4 146.6L215.5 148.7L216.6 150.8L217.6 153.0L218.7 155.3L219.8 157.8L220.8 160.5L221.9 163.3L223.0 166.1L224.0 168.8L225.1 171.4L226.2 173.9L227.2 176.5L228.3 179.2L229.4 181.8L230.4 184.4L231.5 186.7L232.6 188.9L233.6 190.9L234.7 192.8L235.8 194.6L236.8 196.2L237.9 197.7L239.0 199.1L240.0 200.4L241.1 201.5L242.2 202.4L243.2 203.3L244.3 204.1L245.4 204.8L246.4 205.4L247.5 206.0L248.6 206.5L249.6 207.0L250.7 207.3L251.7 207.6L252.8 207.8L253.9 208.0L254.9 208.2L256.0 208.4L257.1 208.5L258.1 208.7L259.2 208.8L260.3 208.9L261.3 209.0L262.4 209.1L263.5 209.2L264.5 209.3L265.6 209.3L266.7 209.4L267.7 209.5L268.8 209.5L269.9 209.6L270.9 209.7L272.0 209.7L273.1 209.8L274.1 209.8L275.2 209.9L277.3 210.0L279.5 210.0L281.6 210.1L283.7 210.2L285.9 210.3L288.0 210.3L290.1 210.4L292.3 210.5L294.4 210.5L296.5 210.6L298.7 210.6L300.8 210.7L302.9 210.8L305.0 210.8L307.2 210.9L309.3 210.9L311.4 211.0L313.6 211.0L315.7 211.1L317.8 211.1L320.0 211.2L322.1 211.2L324.2 211.2L326.4 211.3L328.5 211.3" stroke="#f07828"/><path d="M62.0 168.7L62.5 168.9L63.1 168.4L63.6 169.0L64.1 169.0L64.7 169.0L65.2 170.2L65.7 170.5L66.3 169.2L66.8 170.0L67.3 170.9L67.9 170.2L68.4 170.5L68.9 172.2L69.5 172.0L70.0 171.3L70.5 172.1L71.1 171.4L71.6 169.8L72.1 168.6L72.7 168.1L73.2 166.5L73.7 166.0L74.3 166.6L74.8 165.4L75.3 164.4L75.9 164.2L76.4 165.3L76.9 165.3L77.5 164.4L78.0 164.1L78.5 165.1L79.1 166.0L79.6 165.5L80.1 166.5L80.7 166.8L81.2 165.3L81.7 165.1L82.3 166.2L82.8 165.5L83.3 164.5L83.9 164.5L84.4 165.6L84.9 166.2L85.5 165.2L86.0 165.6L86.5 166.7L87.1 165.9L87.6 164.6L88.1 165.8L88.7 168.3L89.2 168.5L89.7 167.6L90.2 166.9L90.8 166.0L91.3 166.1L91.8 166.9L92.4 166.8L92.9 167.0L93.4 167.1L94.0 167.0L94.5 165.4L95.0 164.6L95.6 166.6L96.1 167.6L96.6 166.9L97.2 166.1L97.7 162.7L98.2 159.8L98.8 156.8L99.3 155.0L99.8 155.0L100.4 155.2L100.9 155.5L101.4 155.9L102.0 156.3L102.5 156.8L103.0 157.3L103.6 157.7L104.1 158.1L104.6 158.6L105.2 159.0L105.7 159.5L106.2 160.0L106.8 160.4L107.3 161.0L107.8 161.5L108.4 162.0L108.9 162.5L109.4 163.1L110.0 163.6L110.5 164.2L111.0 164.8L111.6 165.4L112.1 166.0L112.6 166.6L113.2 167.2L113.7 167.7L114.2 168.3L114.8 168.9L115.3 169.5L116.4 170.5L117.4 171.0L118.5 171.1L119.6 171.3L120.6 171.4L121.7 171.4L122.8 171.5L123.8 171.7L124.9 172.0L126.0 172.5L127.0 173.1L128.1 173.7L129.2 174.4L130.2 175.5L131.3 176.6L132.4 177.8L133.4 178.9L134.5 180.2L135.6 181.1L136.6 181.2L137.7 180.8L138.8 180.2L139.8 179.4L140.9 178.3L141.9 177.0L143.0 175.7L144.1 174.6L145.1 173.4L146.2 172.3L147.3 171.3L148.3 170.3L149.4 169.4L150.5 168.6L151.5 167.7L152.6 166.7L153.7 165.7L154.7 164.6L155.8 163.4L156.9 162.3L157.9 161.2L159.0 160.1L160.1 159.0L161.1 157.9L162.2 156.9L163.3 155.9L164.3 154.9L165.4 153.8L166.5 152.8L167.5 151.8L168.6 150.9L169.7 150.0L170.7 149.2L171.8 148.3L172.9 147.6L173.9 146.9L175.0 146.2L176.1 145.6L177.1 145.0L178.2 144.4L179.3 143.9L180.3 143.4L181.4 142.9L182.5 142.5L183.5 142.1L184.6 141.7L185.7 141.3L186.7 141.0L187.8 140.7L188.9 140.4L189.9 140.1L191.0 139.9L192.1 139.6L193.1 139.4L194.2 139.3L195.2 139.3L196.3 139.5L197.4 139.7L198.4 140.1L199.5 140.4L200.6 140.8L201.6 141.2L202.7 141.7L203.8 142.3L204.8 142.9L205.9 143.6L207.0 144.4L208.0 145.3L209.1 146.4L210.2 147.7L211.2 149.4L212.3 151.2L213.4 153.1L214.4 155.0L215.5 156.8L216.6 158.6L217.6 160.5L218.7 162.5L219.8 164.7L220.8 167.0L221.9 169.4L223.0 171.8L224.0 174.2L225.1 176.5L226.2 178.7L227.2 180.9L228.3 183.2L229.4 185.4L230.4 187.6L231.5 189.6L232.6 191.5L233.6 193.2L234.7 194.8L235.8 196.4L236.8 197.8L237.9 199.1L239.0 200.4L240.0 201.5L241.1 202.4L242.2 203.3L243.2 204.0L244.3 204.7L245.4 205.3L246.4 205.8L247.5 206.4L248.6 206.8L249.6 207.2L250.7 207.5L251.7 207.7L252.8 207.9L253.9 208.1L254.9 208.3L256.0 208.4L257.1 208.6L258.1 208.7L259.2 208.8L260.3 208.9L261.3 209.0L262.4 209.1L263.5 209.2L264.5 209.2L265.6 209.3L266.7 209.4L267.7 209.4L268.8 209.5L269.9 209.6L270.9 209.6L272.0 209.7L273.1 209.7L274.1 209.8L275.2 209.8L277.3 209.9L279.5 210.0L281.6 210.0L283.7 210.1L285.9 210.2L288.0 210.2L290.1 210.3L292.3 210.4L294.4 210.4L296.5 210.5L298.7 210.6L300.8 210.6L302.9 210.7L305.0 210.7L307.2 210.8L309.3 210.8L311.4 210.9L313.6 210.9L315.7 211.0L317.8 211.0L320.0 211.1L322.1 211.1L324.2 211.1L326.4 211.2L328.5 211.2" stroke="#6a9ed8"/><path d="M62.0 170.8L62.5 171.2L63.1 171.8L63.6 172.1L64.1 172.8L64.7 172.7L65.2 172.7L65.7 173.7L66.3 173.0L66.8 172.8L67.3 174.9L67.9 174.7L68.4 174.8L68.9 175.5L69.5 175.3L70.0 175.4L70.5 174.8L71.1 174.4L71.6 173.4L72.1 170.8L72.7 171.2L73.2 171.4L73.7 169.0L74.3 168.9L74.8 169.6L75.3 167.7L75.9 167.2L76.4 167.2L76.9 166.7L77.5 167.9L78.0 168.0L78.5 167.6L79.1 167.3L79.6 167.4L80.1 168.0L80.7 168.2L81.2 167.5L81.7 167.1L82.3 168.5L82.8 169.4L83.3 168.6L83.9 168.6L84.4 169.1L84.9 169.3L85.5 169.2L86.0 168.5L86.5 167.8L87.1 168.0L87.6 167.5L88.1 167.5L88.7 166.9L89.2 166.3L89.7 167.9L90.2 168.9L90.8 170.8L91.3 170.6L91.8 168.9L92.4 167.7L92.9 168.6L93.4 168.6L94.0 167.9L94.5 168.6L95.0 169.9L95.6 170.2L96.1 168.8L96.6 167.9L97.2 166.5L97.7 164.6L98.2 161.5L98.8 158.3L99.3 156.4L99.8 156.5L100.4 156.6L100.9 156.9L101.4 157.3L102.0 157.7L102.5 158.2L103.0 158.6L103.6 159.1L104.1 159.5L104.6 159.9L105.2 160.3L105.7 160.8L106.2 161.2L106.8 161.7L107.3 162.2L107.8 162.6L108.4 163.1L108.9 163.6L109.4 164.1L110.0 164.6L110.5 165.1L111.0 165.7L111.6 166.2L112.1 166.7L112.6 167.3L113.2 167.8L113.7 168.3L114.2 168.8L114.8 169.3L115.3 169.9L116.4 170.8L117.4 171.2L118.5 171.3L119.6 171.4L120.6 171.4L121.7 171.5L122.8 171.5L123.8 171.7L124.9 172.0L126.0 172.5L127.0 173.1L128.1 173.7L129.2 174.4L130.2 175.4L131.3 176.5L132.4 177.7L133.4 178.7L134.5 179.8L135.6 180.7L136.6 180.7L137.7 180.3L138.8 179.7L139.8 179.0L140.9 177.9L141.9 176.6L143.0 175.4L144.1 174.3L145.1 173.3L146.2 172.2L147.3 171.3L148.3 170.4L149.4 169.5L150.5 168.7L151.5 167.9L152.6 167.0L153.7 166.1L154.7 165.1L155.8 164.0L156.9 163.0L157.9 162.0L159.0 161.1L160.1 160.1L161.1 159.2L162.2 158.4L163.3 157.6L164.3 156.8L165.4 156.0L166.5 155.1L167.5 154.3L168.6 153.6L169.7 153.0L170.7 152.3L171.8 151.7L172.9 151.1L173.9 150.6L175.0 150.1L176.1 149.7L177.1 149.3L178.2 148.9L179.3 148.6L180.3 148.3L181.4 147.9L182.5 147.7L183.5 147.4L184.6 147.1L185.7 146.9L186.7 146.7L187.8 146.5L188.9 146.3L189.9 146.2L191.0 146.0L192.1 145.9L193.1 145.8L194.2 145.8L195.2 145.9L196.3 146.2L197.4 146.5L198.4 146.9L199.5 147.4L200.6 147.8L201.6 148.3L202.7 148.8L203.8 149.4L204.8 150.1L205.9 150.7L207.0 151.4L208.0 152.2L209.1 153.2L210.2 154.5L211.2 156.0L212.3 157.7L213.4 159.5L214.4 161.2L215.5 162.9L216.6 164.5L217.6 166.2L218.7 167.9L219.8 169.8L220.8 171.8L221.9 174.0L223.0 176.2L224.0 178.3L225.1 180.3L226.2 182.3L227.2 184.2L228.3 186.2L229.4 188.2L230.4 190.0L231.5 191.8L232.6 193.4L233.6 194.9L234.7 196.3L235.8 197.7L236.8 199.0L237.9 200.2L239.0 201.3L240.0 202.3L241.1 203.2L242.2 203.9L243.2 204.5L244.3 205.1L245.4 205.7L246.4 206.2L247.5 206.6L248.6 207.0L249.6 207.4L250.7 207.6L251.7 207.8L252.8 208.0L253.9 208.2L254.9 208.3L256.0 208.5L257.1 208.6L258.1 208.7L259.2 208.8L260.3 208.9L261.3 209.0L262.4 209.1L263.5 209.1L264.5 209.2L265.6 209.3L266.7 209.3L267.7 209.4L268.8 209.5L269.9 209.5L270.9 209.6L272.0 209.6L273.1 209.7L274.1 209.7L275.2 209.8L277.3 209.8L279.5 209.9L281.6 210.0L283.7 210.1L285.9 210.1L288.0 210.2L290.1 210.3L292.3 210.3L294.4 210.4L296.5 210.4L298.7 210.5L300.8 210.6L302.9 210.6L305.0 210.7L307.2 210.7L309.3 210.8L311.4 210.8L313.6 210.9L315.7 210.9L317.8 211.0L320.0 211.0L322.1 211.1L324.2 211.1L326.4 211.1L328.5 211.1" stroke="#78c440"/><path d="M62.0 172.7L62.5 173.9L63.1 175.1L63.6 174.3L64.1 174.6L64.7 174.9L65.2 175.3L65.7 174.9L66.3 175.3L66.8 176.3L67.3 176.4L67.9 176.7L68.4 177.3L68.9 177.2L69.5 177.3L70.0 177.8L70.5 177.4L71.1 177.3L71.6 176.6L72.1 175.5L72.7 174.0L73.2 172.9L73.7 172.7L74.3 171.4L74.8 170.2L75.3 171.3L75.9 170.6L76.4 169.6L76.9 170.7L77.5 170.1L78.0 170.0L78.5 171.0L79.1 169.7L79.6 170.0L80.1 171.3L80.7 170.2L81.2 170.8L81.7 171.4L82.3 170.5L82.8 169.1L83.3 169.8L83.9 171.3L84.4 170.4L84.9 170.3L85.5 171.4L86.0 171.3L86.5 170.5L87.1 170.5L87.6 169.9L88.1 169.6L88.7 170.1L89.2 170.5L89.7 171.4L90.2 171.7L90.8 170.9L91.3 171.1L91.8 171.1L92.4 171.3L92.9 170.5L93.4 168.7L94.0 169.8L94.5 170.7L95.0 170.6L95.6 170.0L96.1 169.4L96.6 169.5L97.2 168.6L97.7 166.1L98.2 162.9L98.8 159.5L99.3 157.5L99.8 157.6L100.4 157.8L100.9 158.1L101.4 158.4L102.0 158.8L102.5 159.3L103.0 159.7L103.6 160.2L104.1 160.6L104.6 161.0L105.2 161.4L105.7 161.8L106.2 162.2L106.8 162.7L107.3 163.1L107.8 163.6L108.4 164.0L108.9 164.5L109.4 164.9L110.0 165.4L110.5 165.9L111.0 166.4L111.6 166.9L112.1 167.3L112.6 167.8L113.2 168.3L113.7 168.7L114.2 169.2L114.8 169.7L115.3 170.2L116.4 171.0L117.4 171.4L118.5 171.4L119.6 171.5L120.6 171.5L121.7 171.5L122.8 171.5L123.8 171.7L124.9 172.0L126.0 172.5L127.0 173.0L128.1 173.6L129.2 174.3L130.2 175.3L131.3 176.5L132.4 177.6L133.4 178.5L134.5 179.5L135.6 180.3L136.6 180.3L137.7 179.9L138.8 179.3L139.8 178.6L140.9 177.6L141.9 176.3L143.0 175.2L144.1 174.1L145.1 173.1L146.2 172.2L147.3 171.2L148.3 170.4L149.4 169.6L150.5 168.9L151.5 168.1L152.6 167.3L153.7 166.4L154.7 165.4L155.8 164.5L156.9 163.6L157.9 162.7L159.0 161.9L160.1 161.1L161.1 160.3L162.2 159.6L163.3 159.0L164.3 158.4L165.4 157.7L166.5 157.0L167.5 156.4L168.6 155.9L169.7 155.4L170.7 154.9L171.8 154.4L172.9 154.0L173.9 153.6L175.0 153.3L176.1 153.1L177.1 152.8L178.2 152.6L179.3 152.4L180.3 152.2L181.4 152.0L182.5 151.8L183.5 151.7L184.6 151.5L185.7 151.4L186.7 151.3L187.8 151.2L188.9 151.1L189.9 151.0L191.0 151.0L192.1 151.0L193.1 150.9L194.2 151.0L195.2 151.2L196.3 151.6L197.4 152.0L198.4 152.5L199.5 153.0L200.6 153.5L201.6 154.0L202.7 154.6L203.8 155.2L204.8 155.8L205.9 156.4L207.0 157.1L208.0 157.9L209.1 158.8L210.2 159.9L211.2 161.4L212.3 163.0L213.4 164.7L214.4 166.3L215.5 167.8L216.6 169.3L217.6 170.8L218.7 172.3L219.8 174.0L220.8 175.8L221.9 177.7L223.0 179.7L224.0 181.6L225.1 183.4L226.2 185.2L227.2 186.9L228.3 188.7L229.4 190.4L230.4 192.0L231.5 193.5L232.6 194.9L233.6 196.3L234.7 197.6L235.8 198.8L236.8 200.0L237.9 201.1L239.0 202.1L240.0 203.0L241.1 203.8L242.2 204.4L243.2 205.0L244.3 205.5L245.4 206.0L246.4 206.4L247.5 206.8L248.6 207.2L249.6 207.5L250.7 207.7L251.7 207.9L252.8 208.1L253.9 208.2L254.9 208.4L256.0 208.5L257.1 208.6L258.1 208.7L259.2 208.8L260.3 208.9L261.3 209.0L262.4 209.1L263.5 209.1L264.5 209.2L265.6 209.3L266.7 209.3L267.7 209.4L268.8 209.4L269.9 209.5L270.9 209.5L272.0 209.6L273.1 209.6L274.1 209.7L275.2 209.7L277.3 209.8L279.5 209.9L281.6 210.0L283.7 210.0L285.9 210.1L288.0 210.2L290.1 210.2L292.3 210.3L294.4 210.3L296.5 210.4L298.7 210.5L300.8 210.5L302.9 210.6L305.0 210.6L307.2 210.7L309.3 210.7L311.4 210.8L313.6 210.8L315.7 210.9L317.8 210.9L320.0 211.0L322.1 211.0L324.2 211.0L326.4 211.1L328.5 211.1" stroke="#585858"/><path d="M62.0 176.1L62.5 176.4L63.1 177.0L63.6 177.0L64.1 177.8L64.7 176.2L65.2 176.2L65.7 178.6L66.3 179.2L66.8 178.9L67.3 178.7L67.9 178.9L68.4 179.5L68.9 181.2L69.5 181.3L70.0 180.7L70.5 180.9L71.1 180.7L71.6 179.8L72.1 178.2L72.7 177.0L73.2 176.5L73.7 175.5L74.3 173.8L74.8 174.1L75.3 174.6L75.9 174.4L76.4 173.5L76.9 174.5L77.5 175.2L78.0 174.7L78.5 174.8L79.1 173.3L79.6 173.4L80.1 173.8L80.7 174.0L81.2 172.9L81.7 171.9L82.3 172.4L82.8 173.7L83.3 175.0L83.9 173.6L84.4 173.0L84.9 173.8L85.5 173.5L86.0 174.1L86.5 173.8L87.1 173.1L87.6 173.3L88.1 173.7L88.7 173.6L89.2 173.7L89.7 173.4L90.2 172.3L90.8 172.3L91.3 172.6L91.8 172.8L92.4 174.6L92.9 174.4L93.4 172.9L94.0 173.2L94.5 173.1L95.0 173.8L95.6 173.8L96.1 172.5L96.6 170.7L97.2 170.1L97.7 167.9L98.2 164.6L98.8 161.0L99.3 159.0L99.8 159.0L100.4 159.2L100.9 159.5L101.4 159.8L102.0 160.2L102.5 160.7L103.0 161.1L103.6 161.5L104.1 161.9L104.6 162.3L105.2 162.7L105.7 163.1L106.2 163.5L106.8 163.9L107.3 164.3L107.8 164.8L108.4 165.2L108.9 165.6L109.4 166.0L110.0 166.4L110.5 166.8L111.0 167.2L111.6 167.7L112.1 168.1L112.6 168.5L113.2 168.9L113.7 169.2L114.2 169.6L114.8 170.1L115.3 170.5L116.4 171.2L117.4 171.6L118.5 171.6L119.6 171.6L120.6 171.6L121.7 171.6L122.8 171.6L123.8 171.7L124.9 172.0L126.0 172.4L127.0 173.0L128.1 173.6L129.2 174.2L130.2 175.2L131.3 176.4L132.4 177.4L133.4 178.3L134.5 179.2L135.6 179.8L136.6 179.8L137.7 179.4L138.8 178.8L139.8 178.2L140.9 177.1L141.9 176.0L143.0 174.9L144.1 173.9L145.1 173.0L146.2 172.1L147.3 171.2L148.3 170.4L149.4 169.7L150.5 169.0L151.5 168.3L152.6 167.6L153.7 166.8L154.7 165.9L155.8 165.0L156.9 164.3L157.9 163.5L159.0 162.9L160.1 162.2L161.1 161.7L162.2 161.2L163.3 160.7L164.3 160.3L165.4 159.8L166.5 159.4L167.5 159.0L168.6 158.6L169.7 158.3L170.7 158.0L171.8 157.8L172.9 157.6L173.9 157.4L175.0 157.3L176.1 157.2L177.1 157.2L178.2 157.1L179.3 157.1L180.3 157.0L181.4 157.0L182.5 157.0L183.5 157.0L184.6 157.0L185.7 157.0L186.7 157.0L187.8 157.0L188.9 157.0L189.9 157.1L191.0 157.2L192.1 157.2L193.1 157.3L194.2 157.5L195.2 157.8L196.3 158.3L197.4 158.8L198.4 159.4L199.5 159.9L200.6 160.5L201.6 161.1L202.7 161.7L203.8 162.3L204.8 162.9L205.9 163.5L207.0 164.1L208.0 164.8L209.1 165.6L210.2 166.7L211.2 168.0L212.3 169.5L213.4 171.1L214.4 172.6L215.5 173.9L216.6 175.2L217.6 176.4L218.7 177.7L219.8 179.1L220.8 180.6L221.9 182.3L223.0 184.0L224.0 185.7L225.1 187.2L226.2 188.7L227.2 190.2L228.3 191.7L229.4 193.1L230.4 194.4L231.5 195.7L232.6 196.9L233.6 198.0L234.7 199.1L235.8 200.1L236.8 201.1L237.9 202.1L239.0 203.0L240.0 203.8L241.1 204.5L242.2 205.1L243.2 205.5L244.3 206.0L245.4 206.4L246.4 206.8L247.5 207.1L248.6 207.4L249.6 207.7L250.7 207.9L251.7 208.0L252.8 208.2L253.9 208.3L254.9 208.4L256.0 208.5L257.1 208.7L258.1 208.7L259.2 208.8L260.3 208.9L261.3 209.0L262.4 209.0L263.5 209.1L264.5 209.2L265.6 209.2L266.7 209.3L267.7 209.3L268.8 209.4L269.9 209.5L270.9 209.5L272.0 209.5L273.1 209.6L274.1 209.6L275.2 209.7L277.3 209.8L279.5 209.8L281.6 209.9L283.7 210.0L285.9 210.0L288.0 210.1L290.1 210.2L292.3 210.2L294.4 210.3L296.5 210.3L298.7 210.4L300.8 210.5L302.9 210.5L305.0 210.6L307.2 210.6L309.3 210.7L311.4 210.7L313.6 210.8L315.7 210.8L317.8 210.9L320.0 210.9L322.1 210.9L324.2 211.0L326.4 211.0L328.5 211.0" stroke="#f04458"/></g><line x1="62.0" y1="217.0" x2="329.1" y2="217.0" stroke="#2b2b2b" stroke-width="1.6"/><line x1="62.0" y1="1.5" x2="62.0" y2="217.8" stroke="#2b2b2b" stroke-width="1.6"/><line x1="62.0" y1="1.5" x2="328.5" y2="1.5" stroke="#2b2b2b" stroke-width="1.2"/><line x1="328.5" y1="1.5" x2="328.5" y2="217.0" stroke="#2b2b2b" stroke-width="1.2"/><path d="M62.00 217V221M115.30 217V221M168.60 217V221M221.90 217V221M275.20 217V221M328.50 217V221M88.65 217V219.3M141.95 217V219.3M195.25 217V219.3M248.55 217V219.3M301.85 217V219.3M62 217.00H57.6M62 183.83H57.6M62 150.66H57.6M62 117.49H57.6M62 84.32H57.6M62 51.15H57.6M62 17.98H57.6M62 200.41H59.6M62 167.25H59.6M62 134.07H59.6M62 100.90H59.6M62 67.74H59.6M62 34.56H59.6" stroke="#2b2b2b" stroke-width="1.2" fill="none"/><g font-family='"Liberation Sans", sans-serif' font-size="9" fill="#333"><text x="54.8" y="220.25" text-anchor="end">0.0</text><text x="54.8" y="187.08" text-anchor="end">0.1</text><text x="54.8" y="153.91" text-anchor="end">0.2</text><text x="54.8" y="120.74" text-anchor="end">0.3</text><text x="54.8" y="87.57" text-anchor="end">0.4</text><text x="54.8" y="54.40" text-anchor="end">0.5</text><text x="54.8" y="21.23" text-anchor="end">0.6</text><text x="62.00" y="233.0" text-anchor="middle">200</text><text x="115.30" y="233.0" text-anchor="middle">300</text><text x="168.60" y="233.0" text-anchor="middle">400</text><text x="221.90" y="233.0" text-anchor="middle">500</text><text x="275.20" y="233.0" text-anchor="middle">600</text><text x="328.50" y="233.0" text-anchor="middle">700</text></g><clipPath id="clipAT"><rect x="0" y="0" width="345" height="249"/></clipPath><g font-family='"Liberation Sans", sans-serif' font-size="11" fill="#222"><text x="195.6" y="247.8" text-anchor="middle" clip-path="url(#clipAT)">Wavelength (nm)</text><text transform="translate(38 109.5) rotate(-90)" text-anchor="middle">Absorbance (a.u)</text></g><rect x="263.3" y="7.5" width="59.1" height="194.7" fill="#fff" stroke="#cfcfcf" stroke-width="1"/><g font-family='"Liberation Sans", sans-serif' font-size="11.1" fill="#222"><line x1="264.3" y1="15.50" x2="289.7" y2="15.50" stroke="#505050" stroke-width="1.1"/><text x="292.5" y="19.40">t=0</text><line x1="264.3" y1="29.25" x2="289.7" y2="29.25" stroke="#ee4048" stroke-width="1.1"/><text x="292.5" y="33.15">t=30</text><line x1="264.3" y1="43.00" x2="289.7" y2="43.00" stroke="#3a7fe6" stroke-width="1.1"/><text x="292.5" y="46.90">t=45</text><line x1="264.3" y1="56.75" x2="289.7" y2="56.75" stroke="#4fb27a" stroke-width="1.1"/><text x="292.5" y="60.65">t=60</text><line x1="264.3" y1="70.50" x2="289.7" y2="70.50" stroke="#b07ae8" stroke-width="1.1"/><text x="292.5" y="74.40">t=75</text><line x1="264.3" y1="84.25" x2="289.7" y2="84.25" stroke="#d8a030" stroke-width="1.1"/><text x="292.5" y="88.15">t=90</text><line x1="264.3" y1="98.00" x2="289.7" y2="98.00" stroke="#20c8d2" stroke-width="1.1"/><text x="292.5" y="101.90">t=105</text><line x1="264.3" y1="111.75" x2="289.7" y2="111.75" stroke="#946a6a" stroke-width="1.1"/><text x="292.5" y="115.65">t=120</text><line x1="264.3" y1="125.50" x2="289.7" y2="125.50" stroke="#9c9828" stroke-width="1.1"/><text x="292.5" y="129.40">t=135</text><line x1="264.3" y1="139.25" x2="289.7" y2="139.25" stroke="#f07828" stroke-width="1.1"/><text x="292.5" y="143.15">t=150</text><line x1="264.3" y1="153.00" x2="289.7" y2="153.00" stroke="#6a9ed8" stroke-width="1.1"/><text x="292.5" y="156.90">t=165</text><line x1="264.3" y1="166.75" x2="289.7" y2="166.75" stroke="#78c440" stroke-width="1.1"/><text x="292.5" y="170.65">t=180</text><line x1="264.3" y1="180.50" x2="289.7" y2="180.50" stroke="#585858" stroke-width="1.1"/><text x="292.5" y="184.40">t=195</text><line x1="264.3" y1="194.25" x2="289.7" y2="194.25" stroke="#f04458" stroke-width="1.1"/><text x="292.5" y="198.15">t=210</text></g><clipPath id="clipB"><rect x="410.8" y="2" width="265.7" height="214.0"/></clipPath><g clip-path="url(#clipB)" fill="none" stroke-width="1.2" stroke-linejoin="round"><path d="M410.3 108.0L410.8 108.6L411.4 108.6L411.9 108.7L412.4 110.2L413.0 112.5L413.5 113.5L414.0 113.7L414.6 114.6L415.1 115.4L415.6 116.8L416.2 118.5L416.7 119.3L417.2 120.2L417.8 120.9L418.3 119.8L418.8 119.2L419.4 119.9L419.9 118.8L420.4 116.7L421.0 116.3L421.5 115.9L422.0 115.5L422.6 115.6L423.1 115.1L423.6 114.5L424.2 113.1L424.7 113.6L425.2 113.8L425.8 114.0L426.3 115.1L426.8 114.5L427.4 114.3L427.9 114.8L428.4 116.1L429.0 116.2L429.5 116.0L430.0 115.9L430.6 116.0L431.1 116.2L431.6 116.4L432.2 116.6L432.7 116.9L433.2 117.2L433.8 117.6L434.3 118.1L434.8 118.6L435.4 119.2L435.9 119.9L436.4 120.5L436.9 121.3L437.5 122.2L438.0 123.2L438.5 124.2L439.1 125.2L439.6 126.2L440.1 127.1L440.7 128.1L441.2 129.1L441.7 130.0L442.3 130.8L442.8 131.1L443.3 131.2L443.9 131.3L444.4 131.4L444.9 131.4L445.5 131.5L446.0 131.0L446.5 129.8L447.1 128.3L447.6 126.9L448.1 126.0L448.7 125.8L449.2 126.0L449.7 126.4L450.3 127.0L450.8 127.6L451.3 128.4L451.9 129.1L452.4 129.9L452.9 130.7L453.5 131.8L454.0 132.9L454.5 134.2L455.1 135.5L455.6 136.9L456.1 138.3L456.7 140.0L457.2 141.8L457.7 143.6L458.3 145.4L458.8 147.0L459.3 148.7L459.9 150.3L460.4 152.0L460.9 153.6L461.5 155.1L462.0 156.6L462.5 158.0L463.1 159.3L463.6 160.5L464.7 162.9L465.7 165.1L466.8 167.4L467.9 169.6L468.9 171.7L470.0 173.3L471.1 174.6L472.1 175.7L473.2 176.6L474.3 177.4L475.3 178.3L476.4 179.5L477.5 181.3L478.5 183.4L479.6 185.6L480.7 188.1L481.7 190.4L482.8 192.7L483.9 194.4L484.9 194.7L486.0 194.3L487.1 193.8L488.1 192.9L489.2 191.2L490.2 189.0L491.3 186.8L492.4 184.6L493.4 182.2L494.5 179.6L495.6 176.8L496.6 173.7L497.7 170.3L498.8 166.7L499.8 163.2L500.9 159.9L502.0 156.5L503.0 153.1L504.1 149.8L505.2 146.4L506.2 142.9L507.3 139.3L508.4 135.6L509.4 131.8L510.5 127.9L511.6 123.9L512.6 119.9L513.7 115.8L514.8 111.7L515.8 107.5L516.9 103.2L518.0 98.9L519.0 94.4L520.1 89.7L521.2 84.7L522.2 79.6L523.3 74.4L524.4 69.3L525.4 64.3L526.5 59.6L527.6 55.2L528.6 51.3L529.7 47.7L530.8 44.2L531.8 40.8L532.9 37.6L534.0 34.5L535.0 31.6L536.1 28.9L537.2 26.3L538.2 24.0L539.3 21.8L540.4 19.8L541.4 17.8L542.5 16.0L543.5 14.3L544.6 12.9L545.7 11.7L546.7 10.7L547.8 9.8L548.9 9.0L549.9 8.4L551.0 8.0L552.1 7.9L553.1 8.8L554.2 10.4L555.3 12.6L556.3 15.0L557.4 17.4L558.5 20.6L559.5 24.3L560.6 28.4L561.7 32.6L562.7 36.8L563.8 41.3L564.9 46.1L565.9 51.0L567.0 55.8L568.1 60.6L569.1 65.3L570.2 70.0L571.3 75.1L572.3 80.6L573.4 86.8L574.5 93.3L575.5 100.1L576.6 107.0L577.7 113.9L578.7 120.5L579.8 127.3L580.9 134.1L581.9 140.8L583.0 147.2L584.1 153.4L585.1 159.4L586.2 165.3L587.3 170.8L588.3 176.1L589.4 180.8L590.5 185.2L591.5 189.3L592.6 193.2L593.7 196.9L594.7 200.5L595.8 203.7L596.9 206.2L597.9 208.4L599.0 210.1L600.0 211.1L601.1 211.9L602.2 212.6L603.2 213.1L604.3 213.5L605.4 213.7L606.4 213.9L607.5 214.1L608.6 214.3L609.6 214.4L610.7 214.5L611.8 214.6L612.8 214.6L613.9 214.6L615.0 214.7L616.0 214.7L617.1 214.7L618.2 214.7L619.2 214.8L620.3 214.8L621.4 214.8L622.4 214.8L623.5 214.8L625.6 214.9L627.8 214.9L629.9 215.0L632.0 215.0L634.2 215.0L636.3 215.0L638.4 215.1L640.6 215.1L642.7 215.1L644.8 215.1L647.0 215.2L649.1 215.2L651.2 215.2L653.3 215.2L655.5 215.2L657.6 215.2L659.7 215.2L661.9 215.2L664.0 215.3L666.1 215.3L668.3 215.3L670.4 215.3L672.5 215.3L674.7 215.3L676.8 215.3" stroke="#111111"/><path d="M410.3 103.2L410.8 102.0L411.4 101.6L411.9 102.9L412.4 105.2L413.0 107.6L413.5 108.9L414.0 110.0L414.6 110.4L415.1 111.6L415.6 112.6L416.2 113.6L416.7 113.8L417.2 112.9L417.8 113.4L418.3 113.1L418.8 113.5L419.4 114.5L419.9 113.6L420.4 112.2L421.0 110.0L421.5 107.4L422.0 104.7L422.6 102.0L423.1 100.9L423.6 101.3L424.2 101.2L424.7 99.1L425.2 99.3L425.8 100.1L426.3 98.0L426.8 97.5L427.4 98.5L427.9 98.7L428.4 97.9L429.0 97.5L429.5 98.6L430.0 99.0L430.6 98.7L431.1 98.9L431.6 98.6L432.2 99.6L432.7 101.2L433.2 101.0L433.8 99.6L434.3 99.5L434.8 100.5L435.4 99.7L435.9 100.5L436.4 101.5L436.9 101.5L437.5 102.2L438.0 102.4L438.5 102.3L439.1 103.4L439.6 105.1L440.1 106.1L440.7 106.2L441.2 106.1L441.7 106.7L442.3 107.6L442.8 108.5L443.3 107.9L443.9 108.1L444.4 108.4L444.9 107.7L445.5 107.6L446.0 106.9L446.5 105.7L447.1 103.5L447.6 100.8L448.1 98.4L448.7 96.9L449.2 96.7L449.7 96.8L450.3 97.1L450.8 97.4L451.3 97.8L451.9 98.3L452.4 98.8L452.9 99.3L453.5 100.0L454.0 100.9L454.5 102.0L455.1 103.2L455.6 104.4L456.1 105.7L456.7 106.9L457.2 108.2L457.7 109.6L458.3 111.0L458.8 112.5L459.3 113.9L459.9 115.4L460.4 117.0L460.9 118.7L461.5 120.3L462.0 121.7L462.5 122.8L463.1 123.8L463.6 124.7L464.7 126.3L465.7 127.6L466.8 128.8L467.9 129.8L468.9 130.5L470.0 131.3L471.1 132.3L472.1 133.6L473.2 135.0L474.3 136.6L475.3 138.3L476.4 140.1L477.5 142.1L478.5 144.3L479.6 146.7L480.7 149.0L481.7 151.8L482.8 154.7L483.9 156.5L484.9 156.4L486.0 155.4L487.1 153.8L488.1 152.0L489.2 149.2L490.2 146.0L491.3 143.1L492.4 140.7L493.4 138.6L494.5 136.5L495.6 134.4L496.6 132.1L497.7 129.7L498.8 127.4L499.8 124.8L500.9 122.0L502.0 118.9L503.0 114.9L504.1 110.0L505.2 105.1L506.2 100.6L507.3 96.9L508.4 93.5L509.4 90.1L510.5 86.8L511.6 83.3L512.6 79.5L513.7 75.8L514.8 72.4L515.8 69.4L516.9 66.8L518.0 64.5L519.0 62.2L520.1 60.0L521.2 57.9L522.2 55.8L523.3 53.9L524.4 51.9L525.4 50.0L526.5 48.2L527.6 46.3L528.6 44.7L529.7 43.1L530.8 41.6L531.8 40.2L532.9 38.9L534.0 37.4L535.0 36.0L536.1 34.5L537.2 33.0L538.2 31.5L539.3 29.9L540.4 28.2L541.4 26.5L542.5 24.7L543.5 22.8L544.6 21.1L545.7 19.3L546.7 17.3L547.8 15.4L548.9 14.0L549.9 13.5L551.0 13.8L552.1 14.6L553.1 15.7L554.2 17.1L555.3 18.8L556.3 21.6L557.4 25.4L558.5 29.5L559.5 33.4L560.6 36.9L561.7 40.4L562.7 43.9L563.8 47.6L564.9 51.5L565.9 55.9L567.0 60.8L568.1 66.7L569.1 73.3L570.2 80.3L571.3 87.3L572.3 94.0L573.4 100.5L574.5 107.1L575.5 113.6L576.6 120.0L577.7 126.2L578.7 132.1L579.8 137.8L580.9 143.4L581.9 148.7L583.0 153.7L584.1 158.4L585.1 162.8L586.2 167.0L587.3 170.9L588.3 174.4L589.4 177.7L590.5 180.7L591.5 183.5L592.6 186.1L593.7 188.5L594.7 190.6L595.8 192.1L596.9 193.4L597.9 194.6L599.0 195.6L600.0 196.5L601.1 197.3L602.2 198.0L603.2 198.7L604.3 199.4L605.4 200.0L606.4 200.5L607.5 200.9L608.6 201.2L609.6 201.4L610.7 201.7L611.8 201.9L612.8 202.1L613.9 202.3L615.0 202.5L616.0 202.7L617.1 202.8L618.2 203.0L619.2 203.1L620.3 203.3L621.4 203.4L622.4 203.5L623.5 203.7L625.6 204.0L627.8 204.2L629.9 204.5L632.0 204.7L634.2 204.9L636.3 205.0L638.4 205.1L640.6 205.3L642.7 205.4L644.8 205.5L647.0 205.6L649.1 205.7L651.2 205.8L653.3 205.8L655.5 205.9L657.6 206.0L659.7 206.1L661.9 206.1L664.0 206.2L666.1 206.2L668.3 206.3L670.4 206.3L672.5 206.3L674.7 206.3L676.8 206.3" stroke="#ff2a2a"/><path d="M410.3 104.2L410.8 104.0L411.4 103.3L411.9 104.3L412.4 107.7L413.0 110.0L413.5 110.5L414.0 110.5L414.6 111.0L415.1 112.2L415.6 114.3L416.2 115.4L416.7 114.8L417.2 114.9L417.8 115.0L418.3 115.1L418.8 114.1L419.4 112.7L419.9 112.9L420.4 113.4L421.0 111.0L421.5 108.6L422.0 106.5L422.6 103.1L423.1 102.9L423.6 103.1L424.2 102.4L424.7 101.8L425.2 101.1L425.8 100.0L426.3 99.6L426.8 100.3L427.4 99.9L427.9 100.0L428.4 100.8L429.0 99.7L429.5 100.1L430.0 101.7L430.6 101.5L431.1 102.1L431.6 103.4L432.2 102.6L432.7 102.1L433.2 103.1L433.8 103.0L434.3 103.4L434.8 103.9L435.4 103.5L435.9 101.9L436.4 101.8L436.9 102.8L437.5 104.3L438.0 105.1L438.5 105.5L439.1 105.7L439.6 105.8L440.1 106.8L440.7 107.3L441.2 108.0L441.7 109.2L442.3 109.2L442.8 109.6L443.3 110.9L443.9 110.6L444.4 110.4L444.9 109.7L445.5 108.2L446.0 107.9L446.5 106.4L447.1 104.0L447.6 101.5L448.1 99.4L448.7 98.1L449.2 97.9L449.7 98.1L450.3 98.3L450.8 98.6L451.3 99.1L451.9 99.5L452.4 100.1L452.9 100.6L453.5 101.3L454.0 102.1L454.5 103.1L455.1 104.3L455.6 105.4L456.1 106.6L456.7 107.8L457.2 109.0L457.7 110.4L458.3 111.7L458.8 113.1L459.3 114.5L459.9 116.0L460.4 117.5L460.9 119.1L461.5 120.7L462.0 122.0L462.5 123.2L463.1 124.1L463.6 125.0L464.7 126.5L465.7 127.8L466.8 128.9L467.9 129.8L468.9 130.6L470.0 131.4L471.1 132.3L472.1 133.5L473.2 134.9L474.3 136.5L475.3 138.1L476.4 139.8L477.5 141.7L478.5 143.8L479.6 146.2L480.7 148.5L481.7 151.1L482.8 153.8L483.9 155.4L484.9 155.4L486.0 154.4L487.1 153.0L488.1 151.2L489.2 148.5L490.2 145.4L491.3 142.5L492.4 140.2L493.4 138.1L494.5 136.1L495.6 134.0L496.6 131.8L497.7 129.5L498.8 127.1L499.8 124.7L500.9 122.0L502.0 119.0L503.0 115.2L504.1 110.8L505.2 106.2L506.2 102.0L507.3 98.5L508.4 95.2L509.4 92.1L510.5 88.9L511.6 85.5L512.6 82.0L513.7 78.4L514.8 75.1L515.8 72.3L516.9 69.8L518.0 67.5L519.0 65.2L520.1 63.1L521.2 61.0L522.2 59.0L523.3 57.0L524.4 55.1L525.4 53.2L526.5 51.4L527.6 49.6L528.6 48.0L529.7 46.5L530.8 45.1L531.8 43.7L532.9 42.4L534.0 41.0L535.0 39.7L536.1 38.3L537.2 36.9L538.2 35.4L539.3 34.0L540.4 32.4L541.4 30.8L542.5 29.1L543.5 27.5L544.6 26.0L545.7 24.3L546.7 22.5L547.8 20.9L548.9 19.7L549.9 19.3L551.0 19.7L552.1 20.5L553.1 21.6L554.2 23.0L555.3 24.6L556.3 27.3L557.4 30.8L558.5 34.7L559.5 38.3L560.6 41.8L561.7 45.2L562.7 48.8L563.8 52.5L564.9 56.6L565.9 61.1L567.0 66.1L568.1 71.9L569.1 78.3L570.2 85.0L571.3 91.7L572.3 98.2L573.4 104.5L574.5 110.8L575.5 117.1L576.6 123.3L577.7 129.2L578.7 134.9L579.8 140.5L580.9 145.8L581.9 151.0L583.0 155.8L584.1 160.3L585.1 164.6L586.2 168.6L587.3 172.2L588.3 175.6L589.4 178.7L590.5 181.6L591.5 184.2L592.6 186.7L593.7 189.1L594.7 191.0L595.8 192.5L596.9 193.7L597.9 194.8L599.0 195.8L600.0 196.7L601.1 197.5L602.2 198.2L603.2 198.9L604.3 199.5L605.4 200.1L606.4 200.6L607.5 201.0L608.6 201.3L609.6 201.5L610.7 201.8L611.8 202.0L612.8 202.2L613.9 202.4L615.0 202.6L616.0 202.8L617.1 202.9L618.2 203.1L619.2 203.2L620.3 203.4L621.4 203.5L622.4 203.6L623.5 203.8L625.6 204.1L627.8 204.3L629.9 204.6L632.0 204.8L634.2 205.0L636.3 205.1L638.4 205.2L640.6 205.3L642.7 205.5L644.8 205.6L647.0 205.7L649.1 205.8L651.2 205.9L653.3 205.9L655.5 206.0L657.6 206.1L659.7 206.2L661.9 206.2L664.0 206.3L666.1 206.3L668.3 206.4L670.4 206.4L672.5 206.4L674.7 206.4L676.8 206.5" stroke="#2a2aff"/><path d="M410.3 105.0L410.8 103.0L411.4 102.9L411.9 105.7L412.4 108.1L413.0 109.3L413.5 110.1L414.0 112.4L414.6 113.7L415.1 114.7L415.6 116.0L416.2 116.8L416.7 117.8L417.2 117.9L417.8 117.8L418.3 117.0L418.8 115.7L419.4 115.5L419.9 115.7L420.4 114.5L421.0 113.6L421.5 112.9L422.0 109.3L422.6 105.9L423.1 104.6L423.6 104.5L424.2 105.1L424.7 104.7L425.2 103.4L425.8 103.1L426.3 103.4L426.8 103.5L427.4 103.6L427.9 102.4L428.4 101.6L429.0 102.7L429.5 103.7L430.0 103.6L430.6 103.0L431.1 103.6L431.6 104.2L432.2 104.9L432.7 105.6L433.2 104.5L433.8 103.6L434.3 104.5L434.8 105.5L435.4 104.7L435.9 104.6L436.4 105.5L436.9 105.2L437.5 105.2L438.0 105.3L438.5 105.5L439.1 106.9L439.6 107.9L440.1 108.2L440.7 109.3L441.2 110.2L441.7 109.5L442.3 110.2L442.8 110.7L443.3 110.1L443.9 110.9L444.4 110.7L444.9 110.0L445.5 109.0L446.0 108.7L446.5 107.0L447.1 104.5L447.6 102.1L448.1 100.3L448.7 99.1L449.2 99.0L449.7 99.2L450.3 99.4L450.8 99.7L451.3 100.2L451.9 100.7L452.4 101.2L452.9 101.7L453.5 102.4L454.0 103.2L454.5 104.2L455.1 105.2L455.6 106.3L456.1 107.5L456.7 108.6L457.2 109.8L457.7 111.0L458.3 112.4L458.8 113.7L459.3 115.0L459.9 116.5L460.4 118.0L460.9 119.5L461.5 121.0L462.0 122.4L462.5 123.4L463.1 124.4L463.6 125.2L464.7 126.7L465.7 127.9L466.8 129.0L467.9 129.9L468.9 130.6L470.0 131.4L471.1 132.3L472.1 133.5L473.2 134.8L474.3 136.3L475.3 137.9L476.4 139.6L477.5 141.4L478.5 143.5L479.6 145.7L480.7 148.0L481.7 150.5L482.8 153.0L483.9 154.5L484.9 154.5L486.0 153.6L487.1 152.2L488.1 150.6L489.2 147.9L490.2 144.9L491.3 142.1L492.4 139.8L493.4 137.7L494.5 135.7L495.6 133.6L496.6 131.5L497.7 129.2L498.8 127.0L499.8 124.6L500.9 122.0L502.0 119.1L503.0 115.6L504.1 111.4L505.2 107.2L506.2 103.3L507.3 99.9L508.4 96.8L509.4 93.8L510.5 90.7L511.6 87.5L512.6 84.1L513.7 80.7L514.8 77.6L515.8 74.8L516.9 72.4L518.0 70.1L519.0 67.9L520.1 65.8L521.2 63.7L522.2 61.7L523.3 59.8L524.4 57.9L525.4 56.0L526.5 54.2L527.6 52.5L528.6 50.9L529.7 49.5L530.8 48.1L531.8 46.8L532.9 45.5L534.0 44.2L535.0 42.9L536.1 41.6L537.2 40.3L538.2 38.9L539.3 37.6L540.4 36.1L541.4 34.6L542.5 33.1L543.5 31.6L544.6 30.2L545.7 28.8L546.7 27.2L547.8 25.7L548.9 24.7L549.9 24.5L551.0 24.9L552.1 25.7L553.1 26.9L554.2 28.2L555.3 29.8L556.3 32.4L557.4 35.6L558.5 39.2L559.5 42.7L560.6 46.1L561.7 49.5L562.7 53.1L563.8 56.9L564.9 61.1L565.9 65.8L567.0 70.8L568.1 76.5L569.1 82.7L570.2 89.2L571.3 95.6L572.3 101.8L573.4 107.9L574.5 114.1L575.5 120.2L576.6 126.2L577.7 132.0L578.7 137.5L579.8 142.8L580.9 148.0L581.9 153.0L583.0 157.6L584.1 162.0L585.1 166.1L586.2 169.9L587.3 173.4L588.3 176.6L589.4 179.6L590.5 182.4L591.5 184.9L592.6 187.3L593.7 189.5L594.7 191.4L595.8 192.8L596.9 194.0L597.9 195.1L599.0 196.0L600.0 196.9L601.1 197.7L602.2 198.4L603.2 199.0L604.3 199.6L605.4 200.2L606.4 200.6L607.5 201.0L608.6 201.3L609.6 201.6L610.7 201.8L611.8 202.1L612.8 202.3L613.9 202.5L615.0 202.7L616.0 202.8L617.1 203.0L618.2 203.1L619.2 203.3L620.3 203.4L621.4 203.6L622.4 203.7L623.5 203.9L625.6 204.1L627.8 204.4L629.9 204.7L632.0 204.9L634.2 205.1L636.3 205.2L638.4 205.3L640.6 205.4L642.7 205.5L644.8 205.6L647.0 205.8L649.1 205.9L651.2 205.9L653.3 206.0L655.5 206.1L657.6 206.2L659.7 206.3L661.9 206.3L664.0 206.4L666.1 206.4L668.3 206.5L670.4 206.5L672.5 206.5L674.7 206.6L676.8 206.6" stroke="#ff2aff"/><path d="M410.3 106.2L410.8 104.8L411.4 105.0L411.9 106.7L412.4 108.4L413.0 111.0L413.5 112.0L414.0 113.2L414.6 113.9L415.1 114.1L415.6 115.6L416.2 116.8L416.7 117.4L417.2 118.4L417.8 118.4L418.3 118.1L418.8 117.7L419.4 117.5L419.9 117.0L420.4 115.5L421.0 114.8L421.5 113.3L422.0 111.1L422.6 108.6L423.1 107.6L423.6 107.1L424.2 105.5L424.7 105.0L425.2 106.1L425.8 105.8L426.3 104.1L426.8 104.0L427.4 103.8L427.9 103.3L428.4 103.6L429.0 104.2L429.5 104.8L430.0 105.0L430.6 104.9L431.1 104.7L431.6 104.8L432.2 105.4L432.7 105.8L433.2 105.6L433.8 106.6L434.3 107.3L434.8 107.0L435.4 106.9L435.9 106.8L436.4 107.0L436.9 107.5L437.5 107.3L438.0 107.1L438.5 108.7L439.1 109.3L439.6 109.6L440.1 109.2L440.7 109.3L441.2 110.8L441.7 110.9L442.3 111.2L442.8 111.7L443.3 111.1L443.9 111.2L444.4 111.5L444.9 110.6L445.5 110.8L446.0 109.7L446.5 107.6L447.1 105.0L447.6 102.8L448.1 101.2L448.7 100.3L449.2 100.2L449.7 100.3L450.3 100.6L450.8 100.9L451.3 101.3L451.9 101.8L452.4 102.4L452.9 103.0L453.5 103.6L454.0 104.4L454.5 105.3L455.1 106.3L455.6 107.3L456.1 108.4L456.7 109.4L457.2 110.6L457.7 111.8L458.3 113.0L458.8 114.3L459.3 115.6L459.9 117.0L460.4 118.4L460.9 120.0L461.5 121.4L462.0 122.7L462.5 123.8L463.1 124.6L463.6 125.4L464.7 126.9L465.7 128.1L466.8 129.1L467.9 130.0L468.9 130.7L470.0 131.4L471.1 132.3L472.1 133.4L473.2 134.7L474.3 136.2L475.3 137.7L476.4 139.3L477.5 141.0L478.5 143.1L479.6 145.3L480.7 147.4L481.7 149.8L482.8 152.1L483.9 153.6L484.9 153.5L486.0 152.7L487.1 151.4L488.1 149.9L489.2 147.3L490.2 144.3L491.3 141.6L492.4 139.3L493.4 137.3L494.5 135.3L495.6 133.3L496.6 131.1L497.7 129.0L498.8 126.8L499.8 124.5L500.9 122.0L502.0 119.3L503.0 116.0L504.1 112.1L505.2 108.2L506.2 104.6L507.3 101.4L508.4 98.5L509.4 95.6L510.5 92.7L511.6 89.6L512.6 86.4L513.7 83.2L514.8 80.2L515.8 77.5L516.9 75.1L518.0 72.9L519.0 70.8L520.1 68.7L521.2 66.6L522.2 64.6L523.3 62.7L524.4 60.9L525.4 59.0L526.5 57.3L527.6 55.6L528.6 54.0L529.7 52.6L530.8 51.3L531.8 50.1L532.9 48.9L534.0 47.6L535.0 46.4L536.1 45.2L537.2 43.9L538.2 42.7L539.3 41.4L540.4 40.1L541.4 38.7L542.5 37.3L543.5 36.0L544.6 34.8L545.7 33.5L546.7 32.1L547.8 30.9L548.9 30.1L549.9 29.9L551.0 30.4L552.1 31.3L553.1 32.5L554.2 33.8L555.3 35.3L556.3 37.7L557.4 40.7L558.5 44.1L559.5 47.4L560.6 50.6L561.7 54.0L562.7 57.7L563.8 61.5L564.9 65.9L565.9 70.7L567.0 75.9L568.1 81.5L569.1 87.4L570.2 93.6L571.3 99.8L572.3 105.7L573.4 111.6L574.5 117.6L575.5 123.5L576.6 129.3L577.7 134.9L578.7 140.2L579.8 145.3L580.9 150.4L581.9 155.1L583.0 159.6L584.1 163.8L585.1 167.7L586.2 171.3L587.3 174.7L588.3 177.7L589.4 180.6L590.5 183.2L591.5 185.6L592.6 187.9L593.7 190.0L594.7 191.8L595.8 193.1L596.9 194.3L597.9 195.3L599.0 196.2L600.0 197.1L601.1 197.8L602.2 198.5L603.2 199.1L604.3 199.7L605.4 200.3L606.4 200.7L607.5 201.1L608.6 201.4L609.6 201.7L610.7 201.9L611.8 202.1L612.8 202.3L613.9 202.5L615.0 202.7L616.0 202.9L617.1 203.1L618.2 203.2L619.2 203.4L620.3 203.5L621.4 203.7L622.4 203.8L623.5 204.0L625.6 204.2L627.8 204.5L629.9 204.7L632.0 204.9L634.2 205.1L636.3 205.3L638.4 205.4L640.6 205.5L642.7 205.6L644.8 205.7L647.0 205.8L649.1 205.9L651.2 206.0L653.3 206.1L655.5 206.2L657.6 206.3L659.7 206.4L661.9 206.4L664.0 206.5L666.1 206.5L668.3 206.6L670.4 206.6L672.5 206.7L674.7 206.7L676.8 206.7" stroke="#2a9a2a"/><path d="M410.3 108.3L410.8 107.6L411.4 106.9L411.9 108.8L412.4 110.8L413.0 110.5L413.5 111.5L414.0 115.2L414.6 116.6L415.1 117.0L415.6 117.8L416.2 118.9L416.7 120.2L417.2 120.6L417.8 120.4L418.3 121.1L418.8 120.8L419.4 119.6L419.9 117.9L420.4 116.7L421.0 116.2L421.5 114.7L422.0 112.6L422.6 109.9L423.1 109.2L423.6 109.4L424.2 108.2L424.7 108.3L425.2 108.1L425.8 107.0L426.3 106.9L426.8 106.4L427.4 105.5L427.9 105.1L428.4 105.7L429.0 106.3L429.5 105.2L430.0 106.0L430.6 107.2L431.1 106.4L431.6 106.7L432.2 107.0L432.7 107.2L433.2 107.3L433.8 106.9L434.3 107.5L434.8 108.2L435.4 108.2L435.9 108.7L436.4 108.8L436.9 109.4L437.5 109.2L438.0 108.2L438.5 108.1L439.1 108.8L439.6 110.5L440.1 110.8L440.7 111.1L441.2 112.2L441.7 111.3L442.3 112.2L442.8 113.0L443.3 112.6L443.9 113.3L444.4 113.7L444.9 113.0L445.5 112.1L446.0 110.6L446.5 108.3L447.1 105.5L447.6 103.5L448.1 102.2L448.7 101.5L449.2 101.4L449.7 101.6L450.3 101.8L450.8 102.1L451.3 102.6L451.9 103.1L452.4 103.7L452.9 104.2L453.5 104.9L454.0 105.6L454.5 106.4L455.1 107.4L455.6 108.3L456.1 109.3L456.7 110.3L457.2 111.4L457.7 112.5L458.3 113.7L458.8 115.0L459.3 116.2L459.9 117.5L460.4 118.9L460.9 120.4L461.5 121.8L462.0 123.0L462.5 124.1L463.1 124.9L463.6 125.7L464.7 127.1L465.7 128.3L466.8 129.3L467.9 130.1L468.9 130.8L470.0 131.4L471.1 132.3L472.1 133.4L473.2 134.6L474.3 136.0L475.3 137.5L476.4 139.0L477.5 140.7L478.5 142.6L479.6 144.8L480.7 146.9L481.7 149.1L482.8 151.2L483.9 152.5L484.9 152.5L486.0 151.7L487.1 150.5L488.1 149.1L489.2 146.6L490.2 143.7L491.3 141.1L492.4 138.9L493.4 136.8L494.5 134.8L495.6 132.9L496.6 130.8L497.7 128.7L498.8 126.6L499.8 124.4L500.9 122.0L502.0 119.4L503.0 116.4L504.1 112.9L505.2 109.3L506.2 106.0L507.3 103.1L508.4 100.3L509.4 97.5L510.5 94.7L511.6 91.8L512.6 88.8L513.7 85.8L514.8 83.0L515.8 80.4L516.9 78.1L518.0 75.9L519.0 73.8L520.1 71.8L521.2 69.7L522.2 67.8L523.3 65.9L524.4 64.0L525.4 62.2L526.5 60.5L527.6 58.9L528.6 57.4L529.7 56.0L530.8 54.8L531.8 53.6L532.9 52.4L534.0 51.3L535.0 50.1L536.1 48.9L537.2 47.8L538.2 46.7L539.3 45.5L540.4 44.3L541.4 43.0L542.5 41.8L543.5 40.7L544.6 39.6L545.7 38.5L546.7 37.4L547.8 36.4L548.9 35.7L549.9 35.8L551.0 36.3L552.1 37.3L553.1 38.4L554.2 39.7L555.3 41.2L556.3 43.4L557.4 46.2L558.5 49.2L559.5 52.3L560.6 55.5L561.7 58.9L562.7 62.5L563.8 66.5L564.9 71.0L565.9 75.9L567.0 81.2L568.1 86.7L569.1 92.4L570.2 98.3L571.3 104.2L572.3 109.9L573.4 115.6L574.5 121.3L575.5 127.0L576.6 132.6L577.7 137.9L578.7 143.0L579.8 148.0L580.9 152.8L581.9 157.4L583.0 161.7L584.1 165.7L585.1 169.4L586.2 172.9L587.3 176.0L588.3 178.9L589.4 181.6L590.5 184.1L591.5 186.4L592.6 188.6L593.7 190.5L594.7 192.2L595.8 193.4L596.9 194.6L597.9 195.6L599.0 196.5L600.0 197.3L601.1 198.0L602.2 198.7L603.2 199.3L604.3 199.8L605.4 200.4L606.4 200.8L607.5 201.2L608.6 201.5L609.6 201.7L610.7 202.0L611.8 202.2L612.8 202.4L613.9 202.6L615.0 202.8L616.0 203.0L617.1 203.2L618.2 203.3L619.2 203.5L620.3 203.6L621.4 203.8L622.4 203.9L623.5 204.1L625.6 204.3L627.8 204.6L629.9 204.8L632.0 205.0L634.2 205.2L636.3 205.3L638.4 205.5L640.6 205.6L642.7 205.7L644.8 205.8L647.0 205.9L649.1 206.0L651.2 206.1L653.3 206.2L655.5 206.3L657.6 206.4L659.7 206.5L661.9 206.6L664.0 206.6L666.1 206.7L668.3 206.7L670.4 206.7L672.5 206.8L674.7 206.8L676.8 206.8" stroke="#4a4aa0"/><path d="M410.3 109.3L410.8 109.1L411.4 108.7L411.9 110.0L412.4 111.1L413.0 111.8L413.5 114.1L414.0 115.5L414.6 115.2L415.1 115.7L415.6 118.0L416.2 119.7L416.7 121.2L417.2 123.2L417.8 122.7L418.3 121.6L418.8 121.0L419.4 120.4L419.9 119.7L420.4 119.1L421.0 118.0L421.5 115.8L422.0 114.4L422.6 112.9L423.1 112.8L423.6 112.9L424.2 110.7L424.7 108.9L425.2 108.9L425.8 109.3L426.3 109.6L426.8 109.0L427.4 107.7L427.9 108.6L428.4 108.7L429.0 107.8L429.5 108.0L430.0 108.9L430.6 109.1L431.1 109.4L431.6 109.1L432.2 108.5L432.7 110.0L433.2 109.5L433.8 108.5L434.3 109.7L434.8 109.3L435.4 109.6L435.9 110.7L436.4 109.7L436.9 111.2L437.5 111.5L438.0 110.7L438.5 111.6L439.1 112.5L439.6 112.7L440.1 113.1L440.7 114.1L441.2 114.1L441.7 114.5L442.3 113.8L442.8 114.1L443.3 115.5L443.9 115.1L444.4 114.6L444.9 113.6L445.5 112.5L446.0 111.6L446.5 109.0L447.1 106.1L447.6 104.2L448.1 103.2L448.7 102.7L449.2 102.7L449.7 102.8L450.3 103.0L450.8 103.4L451.3 103.8L451.9 104.4L452.4 105.0L452.9 105.5L453.5 106.1L454.0 106.8L454.5 107.6L455.1 108.5L455.6 109.4L456.1 110.3L456.7 111.2L457.2 112.2L457.7 113.3L458.3 114.5L458.8 115.6L459.3 116.8L459.9 118.1L460.4 119.4L460.9 120.8L461.5 122.2L462.0 123.4L462.5 124.4L463.1 125.2L463.6 126.0L464.7 127.3L465.7 128.4L466.8 129.4L467.9 130.2L468.9 130.8L470.0 131.5L471.1 132.3L472.1 133.3L473.2 134.5L474.3 135.9L475.3 137.3L476.4 138.8L477.5 140.3L478.5 142.2L479.6 144.3L480.7 146.3L481.7 148.4L482.8 150.4L483.9 151.5L484.9 151.4L486.0 150.7L487.1 149.7L488.1 148.3L489.2 146.0L490.2 143.1L491.3 140.5L492.4 138.4L493.4 136.4L494.5 134.4L495.6 132.5L496.6 130.5L497.7 128.4L498.8 126.4L499.8 124.2L500.9 122.0L502.0 119.6L503.0 116.8L504.1 113.6L505.2 110.4L506.2 107.4L507.3 104.7L508.4 102.0L509.4 99.5L510.5 96.8L511.6 94.1L512.6 91.2L513.7 88.4L514.8 85.7L515.8 83.3L516.9 81.0L518.0 78.9L519.0 76.9L520.1 74.8L521.2 72.8L522.2 70.9L523.3 69.0L524.4 67.2L525.4 65.4L526.5 63.7L527.6 62.1L528.6 60.7L529.7 59.4L530.8 58.2L531.8 57.0L532.9 55.9L534.0 54.9L535.0 53.8L536.1 52.7L537.2 51.7L538.2 50.6L539.3 49.6L540.4 48.5L541.4 47.4L542.5 46.3L543.5 45.3L544.6 44.5L545.7 43.6L546.7 42.7L547.8 41.9L548.9 41.4L549.9 41.6L551.0 42.2L552.1 43.2L553.1 44.4L554.2 45.7L555.3 47.1L556.3 49.1L557.4 51.6L558.5 54.4L559.5 57.3L560.6 60.3L561.7 63.7L562.7 67.4L563.8 71.4L564.9 76.1L565.9 81.2L567.0 86.5L568.1 91.9L569.1 97.4L570.2 103.0L571.3 108.6L572.3 114.0L573.4 119.5L574.5 125.0L575.5 130.5L576.6 135.9L577.7 141.0L578.7 145.9L579.8 150.7L580.9 155.3L581.9 159.7L583.0 163.8L584.1 167.6L585.1 171.1L586.2 174.4L587.3 177.4L588.3 180.1L589.4 182.6L590.5 185.0L591.5 187.2L592.6 189.2L593.7 191.0L594.7 192.6L595.8 193.8L596.9 194.9L597.9 195.8L599.0 196.7L600.0 197.5L601.1 198.2L602.2 198.8L603.2 199.4L604.3 200.0L605.4 200.5L606.4 200.9L607.5 201.3L608.6 201.5L609.6 201.8L610.7 202.0L611.8 202.3L612.8 202.5L613.9 202.7L615.0 202.9L616.0 203.1L617.1 203.2L618.2 203.4L619.2 203.6L620.3 203.7L621.4 203.9L622.4 204.0L623.5 204.1L625.6 204.4L627.8 204.7L629.9 204.9L632.0 205.1L634.2 205.3L636.3 205.4L638.4 205.6L640.6 205.7L642.7 205.8L644.8 205.9L647.0 206.0L649.1 206.1L651.2 206.2L653.3 206.3L655.5 206.4L657.6 206.5L659.7 206.6L661.9 206.7L664.0 206.7L666.1 206.8L668.3 206.8L670.4 206.9L672.5 206.9L674.7 206.9L676.8 206.9" stroke="#9a2aff"/><path d="M410.3 110.9L410.8 110.8L411.4 109.8L411.9 110.4L412.4 111.7L413.0 113.1L413.5 115.2L414.0 117.3L414.6 118.5L415.1 120.2L415.6 121.8L416.2 121.6L416.7 122.7L417.2 123.9L417.8 124.4L418.3 125.4L418.8 124.8L419.4 123.4L419.9 121.7L420.4 119.7L421.0 119.7L421.5 119.6L422.0 118.0L422.6 116.8L423.1 116.4L423.6 115.5L424.2 114.0L424.7 113.3L425.2 113.4L425.8 113.1L426.3 112.8L426.8 111.9L427.4 111.2L427.9 111.7L428.4 111.5L429.0 111.7L429.5 112.1L430.0 112.8L430.6 111.5L431.1 110.7L431.6 111.6L432.2 110.8L432.7 111.1L433.2 112.1L433.8 112.1L434.3 112.0L434.8 111.9L435.4 112.4L435.9 112.9L436.4 113.1L436.9 112.6L437.5 113.9L438.0 114.8L438.5 114.3L439.1 114.7L439.6 115.8L440.1 115.5L440.7 115.3L441.2 116.0L441.7 116.0L442.3 117.0L442.8 117.1L443.3 117.4L443.9 117.7L444.4 116.7L444.9 115.8L445.5 114.8L446.0 113.0L446.5 109.9L447.1 106.8L447.6 105.2L448.1 104.6L448.7 104.4L449.2 104.4L449.7 104.6L450.3 104.8L450.8 105.1L451.3 105.6L451.9 106.2L452.4 106.8L452.9 107.3L453.5 107.9L454.0 108.6L454.5 109.3L455.1 110.0L455.6 110.8L456.1 111.6L456.7 112.5L457.2 113.4L457.7 114.4L458.3 115.5L458.8 116.6L459.3 117.7L459.9 118.8L460.4 120.1L460.9 121.5L461.5 122.8L462.0 123.9L462.5 124.8L463.1 125.6L463.6 126.3L464.7 127.6L465.7 128.6L466.8 129.6L467.9 130.3L468.9 130.9L470.0 131.5L471.1 132.3L472.1 133.3L473.2 134.4L474.3 135.7L475.3 137.0L476.4 138.4L477.5 139.8L478.5 141.6L479.6 143.6L480.7 145.5L481.7 147.4L482.8 149.1L483.9 150.0L484.9 150.0L486.0 149.4L487.1 148.5L488.1 147.3L489.2 145.0L490.2 142.3L491.3 139.8L492.4 137.7L493.4 135.7L494.5 133.8L495.6 131.9L496.6 130.0L497.7 128.0L498.8 126.1L499.8 124.1L500.9 122.0L502.0 119.8L503.0 117.3L504.1 114.7L505.2 112.0L506.2 109.4L507.3 106.9L508.4 104.6L509.4 102.2L510.5 99.8L511.6 97.3L512.6 94.7L513.7 92.1L514.8 89.6L515.8 87.3L516.9 85.2L518.0 83.1L519.0 81.2L520.1 79.2L521.2 77.2L522.2 75.3L523.3 73.4L524.4 71.6L525.4 69.9L526.5 68.3L527.6 66.8L528.6 65.4L529.7 64.2L530.8 63.0L531.8 62.0L532.9 61.0L534.0 60.0L535.0 59.0L536.1 58.1L537.2 57.2L538.2 56.3L539.3 55.3L540.4 54.4L541.4 53.5L542.5 52.6L543.5 51.9L544.6 51.3L545.7 50.7L546.7 50.1L547.8 49.6L548.9 49.4L549.9 49.8L551.0 50.5L552.1 51.6L553.1 52.8L554.2 54.0L555.3 55.4L556.3 57.1L557.4 59.3L558.5 61.7L559.5 64.2L560.6 67.1L561.7 70.5L562.7 74.3L563.8 78.4L564.9 83.3L565.9 88.6L567.0 94.0L568.1 99.3L569.1 104.5L570.2 109.7L571.3 114.8L572.3 119.9L573.4 125.0L574.5 130.2L575.5 135.4L576.6 140.5L577.7 145.4L578.7 150.0L579.8 154.5L580.9 158.8L581.9 163.0L583.0 166.8L584.1 170.3L585.1 173.6L586.2 176.5L587.3 179.3L588.3 181.8L589.4 184.1L590.5 186.2L591.5 188.3L592.6 190.1L593.7 191.8L594.7 193.1L595.8 194.3L596.9 195.3L597.9 196.2L599.0 197.0L600.0 197.8L601.1 198.4L602.2 199.1L603.2 199.6L604.3 200.1L605.4 200.6L606.4 201.0L607.5 201.4L608.6 201.7L609.6 201.9L610.7 202.1L611.8 202.4L612.8 202.6L613.9 202.8L615.0 203.0L616.0 203.2L617.1 203.4L618.2 203.5L619.2 203.7L620.3 203.8L621.4 204.0L622.4 204.1L623.5 204.3L625.6 204.6L627.8 204.8L629.9 205.0L632.0 205.2L634.2 205.4L636.3 205.5L638.4 205.7L640.6 205.8L642.7 205.9L644.8 206.0L647.0 206.2L649.1 206.3L651.2 206.4L653.3 206.5L655.5 206.6L657.6 206.7L659.7 206.8L661.9 206.8L664.0 206.9L666.1 206.9L668.3 207.0L670.4 207.0L672.5 207.1L674.7 207.1L676.8 207.1" stroke="#9a2a9a"/><path d="M410.3 111.8L410.8 111.8L411.4 111.6L411.9 113.1L412.4 114.5L413.0 114.6L413.5 116.1L414.0 118.7L414.6 119.9L415.1 120.8L415.6 122.0L416.2 123.6L416.7 124.6L417.2 125.2L417.8 126.7L418.3 126.6L418.8 126.1L419.4 124.8L419.9 122.5L420.4 122.0L421.0 121.4L421.5 120.7L422.0 119.9L422.6 117.2L423.1 117.2L423.6 117.0L424.2 115.0L424.7 115.9L425.2 116.6L425.8 115.5L426.3 113.7L426.8 113.0L427.4 113.3L427.9 112.6L428.4 112.5L429.0 112.7L429.5 113.0L430.0 112.7L430.6 113.0L431.1 112.9L431.6 112.8L432.2 114.2L432.7 113.8L433.2 113.4L433.8 114.8L434.3 115.1L434.8 114.9L435.4 115.6L435.9 114.6L436.4 114.8L436.9 115.1L437.5 115.1L438.0 114.5L438.5 114.6L439.1 116.4L439.6 117.2L440.1 117.3L440.7 116.9L441.2 116.7L441.7 116.4L442.3 116.5L442.8 117.1L443.3 117.1L443.9 117.3L444.4 117.1L444.9 116.1L445.5 115.1L446.0 113.9L446.5 110.5L447.1 107.3L447.6 105.8L448.1 105.5L448.7 105.4L449.2 105.5L449.7 105.7L450.3 105.9L450.8 106.2L451.3 106.7L451.9 107.3L452.4 107.9L452.9 108.5L453.5 109.1L454.0 109.7L454.5 110.3L455.1 111.0L455.6 111.7L456.1 112.5L456.7 113.3L457.2 114.2L457.7 115.1L458.3 116.1L458.8 117.1L459.3 118.2L459.9 119.3L460.4 120.6L460.9 121.9L461.5 123.1L462.0 124.2L462.5 125.1L463.1 125.9L463.6 126.6L464.7 127.8L465.7 128.8L466.8 129.7L467.9 130.4L468.9 130.9L470.0 131.5L471.1 132.3L472.1 133.2L473.2 134.3L474.3 135.5L475.3 136.8L476.4 138.1L477.5 139.5L478.5 141.2L479.6 143.1L480.7 145.0L481.7 146.8L482.8 148.3L483.9 149.1L484.9 149.1L486.0 148.5L487.1 147.7L488.1 146.6L489.2 144.4L490.2 141.8L491.3 139.3L492.4 137.3L493.4 135.3L494.5 133.4L495.6 131.5L496.6 129.7L497.7 127.8L498.8 125.9L499.8 124.0L500.9 122.0L502.0 119.9L503.0 117.7L504.1 115.3L505.2 112.9L506.2 110.6L507.3 108.3L508.4 106.1L509.4 103.9L510.5 101.6L511.6 99.2L512.6 96.8L513.7 94.4L514.8 92.1L515.8 89.9L516.9 87.8L518.0 85.8L519.0 83.8L520.1 81.9L521.2 79.9L522.2 78.0L523.3 76.2L524.4 74.4L525.4 72.7L526.5 71.1L527.6 69.7L528.6 68.3L529.7 67.2L530.8 66.1L531.8 65.0L532.9 64.1L534.0 63.2L535.0 62.3L536.1 61.4L537.2 60.6L538.2 59.8L539.3 58.9L540.4 58.1L541.4 57.3L542.5 56.6L543.5 56.0L544.6 55.6L545.7 55.1L546.7 54.7L547.8 54.4L548.9 54.4L549.9 54.9L551.0 55.7L552.1 56.8L553.1 58.0L554.2 59.2L555.3 60.5L556.3 62.2L557.4 64.1L558.5 66.2L559.5 68.6L560.6 71.4L561.7 74.8L562.7 78.6L563.8 82.8L564.9 87.8L565.9 93.2L567.0 98.7L568.1 103.9L569.1 108.9L570.2 113.8L571.3 118.7L572.3 123.6L573.4 128.5L574.5 133.5L575.5 138.5L576.6 143.4L577.7 148.1L578.7 152.5L579.8 156.8L580.9 161.0L581.9 165.0L583.0 168.7L584.1 172.0L585.1 175.1L586.2 177.9L587.3 180.4L588.3 182.8L589.4 185.0L590.5 187.0L591.5 189.0L592.6 190.7L593.7 192.2L594.7 193.5L595.8 194.6L596.9 195.5L597.9 196.4L599.0 197.2L600.0 197.9L601.1 198.6L602.2 199.2L603.2 199.7L604.3 200.3L605.4 200.7L606.4 201.1L607.5 201.5L608.6 201.7L609.6 202.0L610.7 202.2L611.8 202.4L612.8 202.7L613.9 202.9L615.0 203.1L616.0 203.2L617.1 203.4L618.2 203.6L619.2 203.8L620.3 203.9L621.4 204.1L622.4 204.2L623.5 204.4L625.6 204.6L627.8 204.9L629.9 205.1L632.0 205.3L634.2 205.5L636.3 205.6L638.4 205.7L640.6 205.9L642.7 206.0L644.8 206.1L647.0 206.3L649.1 206.4L651.2 206.5L653.3 206.6L655.5 206.7L657.6 206.8L659.7 206.9L661.9 206.9L664.0 207.0L666.1 207.1L668.3 207.1L670.4 207.1L672.5 207.2L674.7 207.2L676.8 207.2" stroke="#a83838"/><path d="M410.3 113.3L410.8 113.8L411.4 114.4L411.9 115.2L412.4 115.5L413.0 115.5L413.5 117.1L414.0 119.7L414.6 120.7L415.1 122.2L415.6 124.4L416.2 125.0L416.7 125.3L417.2 126.9L417.8 128.8L418.3 128.3L418.8 128.1L419.4 127.9L419.9 125.0L420.4 123.4L421.0 124.1L421.5 124.4L422.0 122.4L422.6 120.8L423.1 120.7L423.6 119.7L424.2 119.0L424.7 119.5L425.2 118.1L425.8 116.8L426.3 117.1L426.8 116.9L427.4 115.9L427.9 115.6L428.4 115.4L429.0 115.1L429.5 115.0L430.0 115.1L430.6 116.1L431.1 116.9L431.6 117.3L432.2 116.1L432.7 114.2L433.2 115.3L433.8 117.4L434.3 116.8L434.8 116.2L435.4 116.8L435.9 117.1L436.4 117.7L436.9 118.1L437.5 117.0L438.0 116.2L438.5 116.9L439.1 118.0L439.6 117.9L440.1 117.4L440.7 117.6L441.2 118.6L441.7 118.9L442.3 118.1L442.8 118.7L443.3 119.9L443.9 119.3L444.4 118.2L444.9 117.4L445.5 116.7L446.0 115.0L446.5 111.3L447.1 107.9L447.6 106.6L448.1 106.6L448.7 106.7L449.2 106.9L449.7 107.1L450.3 107.3L450.8 107.6L451.3 108.1L451.9 108.7L452.4 109.3L452.9 109.9L453.5 110.5L454.0 111.0L454.5 111.6L455.1 112.2L455.6 112.9L456.1 113.5L456.7 114.3L457.2 115.1L457.7 116.0L458.3 116.9L458.8 117.9L459.3 118.9L459.9 119.9L460.4 121.1L460.9 122.4L461.5 123.6L462.0 124.6L462.5 125.5L463.1 126.2L463.6 126.8L464.7 128.0L465.7 129.0L466.8 129.8L467.9 130.5L468.9 131.0L470.0 131.6L471.1 132.3L472.1 133.2L473.2 134.2L474.3 135.3L475.3 136.6L476.4 137.8L477.5 139.1L478.5 140.7L479.6 142.6L480.7 144.4L481.7 146.1L482.8 147.3L483.9 148.0L484.9 147.9L486.0 147.5L487.1 146.8L488.1 145.8L489.2 143.7L490.2 141.1L491.3 138.7L492.4 136.7L493.4 134.8L494.5 132.9L495.6 131.1L496.6 129.3L497.7 127.5L498.8 125.7L499.8 123.8L500.9 122.0L502.0 120.0L503.0 118.1L504.1 116.1L505.2 114.2L506.2 112.2L507.3 110.1L508.4 108.1L509.4 106.0L510.5 103.9L511.6 101.7L512.6 99.5L513.7 97.3L514.8 95.2L515.8 93.1L516.9 91.1L518.0 89.1L519.0 87.2L520.1 85.3L521.2 83.4L522.2 81.5L523.3 79.7L524.4 77.9L525.4 76.3L526.5 74.7L527.6 73.3L528.6 72.1L529.7 70.9L530.8 69.9L531.8 68.9L532.9 68.0L534.0 67.2L535.0 66.4L536.1 65.6L537.2 64.9L538.2 64.2L539.3 63.5L540.4 62.8L541.4 62.1L542.5 61.6L543.5 61.2L544.6 61.0L545.7 60.8L546.7 60.6L547.8 60.6L548.9 60.8L549.9 61.4L551.0 62.3L552.1 63.5L553.1 64.7L554.2 65.9L555.3 67.1L556.3 68.5L557.4 70.1L558.5 72.0L559.5 74.1L560.6 76.8L561.7 80.2L562.7 84.0L563.8 88.3L564.9 93.5L565.9 99.1L567.0 104.7L568.1 109.7L569.1 114.5L570.2 119.1L571.3 123.6L572.3 128.2L573.4 132.9L574.5 137.7L575.5 142.4L576.6 147.1L577.7 151.5L578.7 155.7L579.8 159.8L580.9 163.8L581.9 167.6L583.0 171.1L584.1 174.2L585.1 177.0L586.2 179.6L587.3 181.9L588.3 184.1L589.4 186.1L590.5 188.0L591.5 189.8L592.6 191.4L593.7 192.8L594.7 193.9L595.8 195.0L596.9 195.9L597.9 196.7L599.0 197.5L600.0 198.2L601.1 198.8L602.2 199.4L603.2 199.9L604.3 200.4L605.4 200.8L606.4 201.2L607.5 201.6L608.6 201.8L609.6 202.1L610.7 202.3L611.8 202.5L612.8 202.7L613.9 202.9L615.0 203.1L616.0 203.3L617.1 203.5L618.2 203.7L619.2 203.9L620.3 204.0L621.4 204.2L622.4 204.3L623.5 204.5L625.6 204.7L627.8 205.0L629.9 205.2L632.0 205.4L634.2 205.6L636.3 205.7L638.4 205.8L640.6 206.0L642.7 206.1L644.8 206.2L647.0 206.4L649.1 206.5L651.2 206.6L653.3 206.7L655.5 206.8L657.6 206.9L659.7 207.0L661.9 207.1L664.0 207.1L666.1 207.2L668.3 207.2L670.4 207.3L672.5 207.3L674.7 207.3L676.8 207.3" stroke="#a8a840"/><path d="M410.3 120.2L410.8 121.0L411.4 123.4L411.9 125.8L412.4 126.8L413.0 128.1L413.5 130.9L414.0 133.9L414.6 135.6L415.1 138.6L415.6 142.0L416.2 143.4L416.7 144.4L417.2 146.2L417.8 148.7L418.3 149.5L418.8 149.6L419.4 148.9L419.9 146.6L420.4 144.5L421.0 142.0L421.5 140.3L422.0 138.0L422.6 134.9L423.1 133.1L423.6 131.5L424.2 131.1L424.7 130.9L425.2 130.0L425.8 130.6L426.3 130.4L426.8 129.9L427.4 129.9L427.9 129.4L428.4 128.4L429.0 128.5L429.5 128.9L430.0 129.5L430.6 129.5L431.1 128.2L431.6 127.9L432.2 128.2L432.7 128.8L433.2 129.6L433.8 129.4L434.3 129.7L434.8 130.4L435.4 129.5L435.9 129.5L436.4 129.4L436.9 129.9L437.5 130.9L438.0 131.1L438.5 131.5L439.1 131.7L439.6 132.1L440.1 132.0L440.7 132.6L441.2 132.6L441.7 132.0L442.3 133.0L442.8 133.7L443.3 133.9L443.9 134.8L444.4 134.3L444.9 136.4L445.5 141.5L446.0 145.4L446.5 152.9L447.1 161.4L447.6 164.9L448.1 162.9L448.7 159.1L449.2 155.3L449.7 152.2L450.3 149.1L450.8 145.9L451.3 142.9L451.9 140.1L452.4 137.4L452.9 134.3L453.5 131.4L454.0 129.4L454.5 128.8L455.1 128.9L455.6 129.0L456.1 129.3L456.7 129.5L457.2 129.7L457.7 130.1L458.3 130.5L458.8 130.9L459.3 131.3L459.9 131.6L460.4 131.8L460.9 131.8L461.5 131.8L462.0 131.9L462.5 131.9L463.1 131.9L463.6 131.9L464.7 132.0L465.7 132.0L466.8 132.0L467.9 132.1L468.9 132.1L470.0 132.4L471.1 132.9L472.1 133.7L473.2 134.6L474.3 135.7L475.3 136.8L476.4 137.9L477.5 139.0L478.5 140.7L479.6 142.6L480.7 144.6L481.7 146.5L482.8 147.9L483.9 148.6L484.9 148.5L486.0 147.8L487.1 146.7L488.1 145.2L489.2 143.5L490.2 141.9L491.3 140.4L492.4 139.0L493.4 137.6L494.5 136.2L495.6 134.7L496.6 133.2L497.7 131.7L498.8 130.1L499.8 128.5L500.9 126.8L502.0 125.0L503.0 123.1L504.1 121.1L505.2 118.9L506.2 116.7L507.3 114.7L508.4 112.7L509.4 110.9L510.5 109.1L511.6 107.4L512.6 105.7L513.7 104.1L514.8 102.5L515.8 101.0L516.9 99.6L518.0 98.3L519.0 97.0L520.1 95.8L521.2 94.6L522.2 93.5L523.3 92.4L524.4 91.4L525.4 90.4L526.5 89.4L527.6 88.5L528.6 87.6L529.7 86.7L530.8 85.8L531.8 85.0L532.9 84.1L534.0 83.4L535.0 82.6L536.1 81.9L537.2 81.3L538.2 80.8L539.3 80.2L540.4 79.7L541.4 79.2L542.5 78.7L543.5 78.3L544.6 78.0L545.7 77.8L546.7 77.8L547.8 78.1L548.9 78.8L549.9 79.7L551.0 81.0L552.1 82.4L553.1 84.0L554.2 85.7L555.3 87.5L556.3 89.3L557.4 91.2L558.5 93.6L559.5 96.3L560.6 99.3L561.7 102.5L562.7 105.7L563.8 108.9L564.9 112.1L565.9 115.5L567.0 119.0L568.1 122.7L569.1 126.4L570.2 130.3L571.3 134.5L572.3 139.0L573.4 143.5L574.5 147.9L575.5 152.0L576.6 155.9L577.7 159.8L578.7 163.6L579.8 167.0L580.9 170.2L581.9 173.1L583.0 175.9L584.1 178.5L585.1 180.8L586.2 182.8L587.3 184.6L588.3 186.1L589.4 187.6L590.5 188.9L591.5 190.1L592.6 191.3L593.7 192.4L594.7 193.4L595.8 194.4L596.9 195.4L597.9 196.2L599.0 197.0L600.0 197.7L601.1 198.4L602.2 199.0L603.2 199.6L604.3 200.2L605.4 200.7L606.4 201.1L607.5 201.5L608.6 201.8L609.6 202.1L610.7 202.4L611.8 202.7L612.8 203.0L613.9 203.3L615.0 203.5L616.0 203.8L617.1 204.0L618.2 204.2L619.2 204.4L620.3 204.6L621.4 204.8L622.4 205.0L623.5 205.2L625.6 205.6L627.8 205.9L629.9 206.1L632.0 206.3L634.2 206.5L636.3 206.7L638.4 206.8L640.6 207.0L642.7 207.1L644.8 207.2L647.0 207.4L649.1 207.5L651.2 207.6L653.3 207.7L655.5 207.8L657.6 207.9L659.7 208.0L661.9 208.1L664.0 208.1L666.1 208.2L668.3 208.2L670.4 208.3L672.5 208.3L674.7 208.3L676.8 208.3" stroke="#3a6ab8"/><path d="M410.3 121.6L410.8 123.2L411.4 123.9L411.9 125.5L412.4 128.1L413.0 130.1L413.5 132.5L414.0 134.1L414.6 136.4L415.1 139.2L415.6 141.7L416.2 144.2L416.7 145.7L417.2 147.3L417.8 148.7L418.3 149.6L418.8 149.2L419.4 149.2L419.9 148.5L420.4 146.4L421.0 143.0L421.5 139.9L422.0 138.4L422.6 136.4L423.1 135.1L423.6 134.1L424.2 132.8L424.7 132.2L425.2 132.3L425.8 132.4L426.3 131.4L426.8 130.7L427.4 131.7L427.9 131.7L428.4 129.9L429.0 130.1L429.5 130.6L430.0 131.0L430.6 130.7L431.1 130.5L431.6 131.5L432.2 131.2L432.7 129.4L433.2 129.6L433.8 131.4L434.3 131.0L434.8 130.4L435.4 130.0L435.9 130.9L436.4 132.7L436.9 132.5L437.5 131.8L438.0 131.7L438.5 131.7L439.1 132.8L439.6 134.0L440.1 133.6L440.7 133.1L441.2 133.2L441.7 134.1L442.3 135.2L442.8 135.0L443.3 134.5L443.9 134.1L444.4 135.3L444.9 136.9L445.5 141.1L446.0 146.4L446.5 153.8L447.1 162.1L447.6 165.4L448.1 163.4L448.7 159.6L449.2 155.8L449.7 152.6L450.3 149.4L450.8 146.2L451.3 143.1L451.9 140.3L452.4 137.6L452.9 134.6L453.5 131.8L454.0 129.9L454.5 129.3L455.1 129.3L455.6 129.4L456.1 129.5L456.7 129.7L457.2 129.9L457.7 130.2L458.3 130.5L458.8 130.9L459.3 131.2L459.9 131.6L460.4 131.8L460.9 131.9L461.5 131.9L462.0 131.9L462.5 132.0L463.1 132.0L463.6 132.0L464.7 132.0L465.7 132.1L466.8 132.1L467.9 132.1L468.9 132.2L470.0 132.5L471.1 133.0L472.1 133.8L473.2 134.7L474.3 135.8L475.3 136.9L476.4 138.0L477.5 139.2L478.5 140.8L479.6 142.7L480.7 144.8L481.7 146.6L482.8 148.0L483.9 148.8L484.9 148.7L486.0 148.0L487.1 146.9L488.1 145.5L489.2 143.9L490.2 142.4L491.3 140.9L492.4 139.6L493.4 138.2L494.5 136.8L495.6 135.3L496.6 133.8L497.7 132.3L498.8 130.7L499.8 129.1L500.9 127.4L502.0 125.7L503.0 123.9L504.1 121.9L505.2 119.9L506.2 117.8L507.3 115.9L508.4 114.0L509.4 112.3L510.5 110.7L511.6 109.0L512.6 107.5L513.7 106.0L514.8 104.5L515.8 103.1L516.9 101.8L518.0 100.6L519.0 99.4L520.1 98.3L521.2 97.3L522.2 96.2L523.3 95.3L524.4 94.3L525.4 93.4L526.5 92.5L527.6 91.6L528.6 90.8L529.7 90.0L530.8 89.2L531.8 88.4L532.9 87.6L534.0 86.8L535.0 86.1L536.1 85.5L537.2 84.9L538.2 84.3L539.3 83.8L540.4 83.3L541.4 82.8L542.5 82.3L543.5 81.9L544.6 81.6L545.7 81.5L546.7 81.5L547.8 81.8L548.9 82.4L549.9 83.3L551.0 84.4L552.1 85.7L553.1 87.2L554.2 88.8L555.3 90.6L556.3 92.3L557.4 94.3L558.5 96.6L559.5 99.2L560.6 102.2L561.7 105.2L562.7 108.4L563.8 111.5L564.9 114.8L565.9 118.2L567.0 121.7L568.1 125.4L569.1 129.1L570.2 133.0L571.3 137.1L572.3 141.3L573.4 145.6L574.5 149.8L575.5 153.7L576.6 157.4L577.7 161.0L578.7 164.5L579.8 167.8L580.9 170.8L581.9 173.6L583.0 176.3L584.1 178.8L585.1 181.1L586.2 183.1L587.3 184.8L588.3 186.5L589.4 187.9L590.5 189.3L591.5 190.5L592.6 191.7L593.7 192.8L594.7 193.9L595.8 194.9L596.9 195.8L597.9 196.7L599.0 197.4L600.0 198.1L601.1 198.8L602.2 199.4L603.2 199.9L604.3 200.5L605.4 200.9L606.4 201.4L607.5 201.7L608.6 202.0L609.6 202.3L610.7 202.6L611.8 202.9L612.8 203.2L613.9 203.4L615.0 203.7L616.0 203.9L617.1 204.1L618.2 204.4L619.2 204.6L620.3 204.8L621.4 205.0L622.4 205.2L623.5 205.3L625.6 205.7L627.8 206.0L629.9 206.2L632.0 206.5L634.2 206.7L636.3 206.8L638.4 207.0L640.6 207.1L642.7 207.3L644.8 207.4L647.0 207.5L649.1 207.7L651.2 207.8L653.3 207.9L655.5 208.0L657.6 208.1L659.7 208.2L661.9 208.2L664.0 208.3L666.1 208.4L668.3 208.4L670.4 208.5L672.5 208.5L674.7 208.5L676.8 208.5" stroke="#3a9aa0"/><path d="M410.3 123.0L410.8 124.7L411.4 125.5L411.9 127.9L412.4 131.5L413.0 132.9L413.5 135.4L414.0 138.2L414.6 139.2L415.1 141.1L415.6 143.9L416.2 146.2L416.7 148.2L417.2 149.6L417.8 150.4L418.3 150.8L418.8 151.3L419.4 152.3L419.9 152.2L420.4 149.7L421.0 148.1L421.5 146.3L422.0 142.6L422.6 140.1L423.1 138.6L423.6 136.8L424.2 136.4L424.7 136.5L425.2 135.7L425.8 134.9L426.3 135.0L426.8 134.4L427.4 133.7L427.9 134.3L428.4 134.2L429.0 134.4L429.5 134.6L430.0 133.7L430.6 133.1L431.1 133.8L431.6 133.4L432.2 133.7L432.7 133.9L433.2 133.6L433.8 134.4L434.3 134.1L434.8 134.5L435.4 134.7L435.9 134.6L436.4 134.8L436.9 133.9L437.5 134.0L438.0 135.1L438.5 135.6L439.1 135.7L439.6 136.4L440.1 137.0L440.7 136.6L441.2 136.1L441.7 137.2L442.3 137.8L442.8 137.1L443.3 137.4L443.9 138.6L444.4 138.9L444.9 140.3L445.5 144.0L446.0 148.6L446.5 155.6L447.1 163.4L447.6 166.6L448.1 164.6L448.7 160.7L449.2 156.8L449.7 153.5L450.3 150.2L450.8 146.8L451.3 143.6L451.9 140.7L452.4 138.1L452.9 135.3L453.5 132.7L454.0 130.9L454.5 130.3L455.1 130.2L455.6 130.2L456.1 130.2L456.7 130.2L457.2 130.2L457.7 130.3L458.3 130.5L458.8 130.8L459.3 131.2L459.9 131.6L460.4 132.0L460.9 132.0L461.5 132.1L462.0 132.1L462.5 132.1L463.1 132.1L463.6 132.2L464.7 132.2L465.7 132.2L466.8 132.2L467.9 132.3L468.9 132.3L470.0 132.6L471.1 133.2L472.1 134.0L473.2 134.9L474.3 136.0L475.3 137.1L476.4 138.3L477.5 139.5L478.5 141.1L479.6 143.1L480.7 145.1L481.7 146.9L482.8 148.3L483.9 149.1L484.9 149.0L486.0 148.4L487.1 147.4L488.1 146.2L489.2 144.8L490.2 143.4L491.3 142.1L492.4 140.9L493.4 139.5L494.5 138.1L495.6 136.7L496.6 135.1L497.7 133.6L498.8 132.0L499.8 130.4L500.9 128.8L502.0 127.2L503.0 125.6L504.1 123.8L505.2 122.0L506.2 120.2L507.3 118.5L508.4 116.9L509.4 115.5L510.5 114.0L511.6 112.7L512.6 111.3L513.7 110.1L514.8 108.9L515.8 107.7L516.9 106.7L518.0 105.7L519.0 104.7L520.1 103.9L521.2 103.0L522.2 102.2L523.3 101.4L524.4 100.7L525.4 99.9L526.5 99.2L527.6 98.5L528.6 97.8L529.7 97.1L530.8 96.4L531.8 95.8L532.9 95.1L534.0 94.4L535.0 93.8L536.1 93.2L537.2 92.6L538.2 92.1L539.3 91.6L540.4 91.1L541.4 90.6L542.5 90.1L543.5 89.8L544.6 89.5L545.7 89.4L546.7 89.5L547.8 89.8L548.9 90.4L549.9 91.1L551.0 92.0L552.1 92.9L553.1 94.1L554.2 95.6L555.3 97.3L556.3 99.1L557.4 101.0L558.5 103.1L559.5 105.6L560.6 108.3L561.7 111.2L562.7 114.2L563.8 117.2L564.9 120.6L565.9 124.0L567.0 127.6L568.1 131.3L569.1 135.0L570.2 138.8L571.3 142.6L572.3 146.4L573.4 150.2L574.5 153.9L575.5 157.4L576.6 160.6L577.7 163.7L578.7 166.6L579.8 169.5L580.9 172.1L581.9 174.7L583.0 177.1L584.1 179.5L585.1 181.7L586.2 183.7L587.3 185.5L588.3 187.2L589.4 188.8L590.5 190.2L591.5 191.5L592.6 192.7L593.7 193.8L594.7 194.9L595.8 195.9L596.9 196.8L597.9 197.6L599.0 198.3L600.0 199.0L601.1 199.6L602.2 200.1L603.2 200.6L604.3 201.1L605.4 201.5L606.4 201.9L607.5 202.2L608.6 202.5L609.6 202.8L610.7 203.0L611.8 203.3L612.8 203.5L613.9 203.8L615.0 204.0L616.0 204.2L617.1 204.5L618.2 204.7L619.2 204.9L620.3 205.1L621.4 205.3L622.4 205.5L623.5 205.6L625.6 206.0L627.8 206.3L629.9 206.5L632.0 206.8L634.2 207.0L636.3 207.1L638.4 207.3L640.6 207.4L642.7 207.6L644.8 207.7L647.0 207.9L649.1 208.0L651.2 208.1L653.3 208.3L655.5 208.4L657.6 208.5L659.7 208.6L661.9 208.7L664.0 208.7L666.1 208.8L668.3 208.9L670.4 208.9L672.5 208.9L674.7 209.0L676.8 209.0" stroke="#a8703a"/><path d="M410.3 124.0L410.8 125.9L411.4 128.2L411.9 129.8L412.4 132.0L413.0 134.6L413.5 137.1L414.0 139.8L414.6 141.7L415.1 143.5L415.6 145.3L416.2 148.0L416.7 149.2L417.2 150.7L417.8 152.8L418.3 153.2L418.8 154.7L419.4 155.2L419.9 154.0L420.4 153.1L421.0 150.7L421.5 147.3L422.0 144.3L422.6 141.6L423.1 139.2L423.6 138.0L424.2 137.8L424.7 138.0L425.2 138.0L425.8 137.7L426.3 136.8L426.8 136.1L427.4 136.2L427.9 135.8L428.4 136.0L429.0 136.8L429.5 136.8L430.0 135.8L430.6 136.5L431.1 137.3L431.6 136.1L432.2 136.3L432.7 135.5L433.2 135.0L433.8 135.8L434.3 136.9L434.8 137.1L435.4 136.9L435.9 137.2L436.4 137.0L436.9 137.4L437.5 137.3L438.0 136.4L438.5 136.3L439.1 137.1L439.6 138.6L440.1 138.3L440.7 137.1L441.2 137.9L441.7 138.8L442.3 138.7L442.8 139.1L443.3 139.4L443.9 140.0L444.4 141.6L444.9 142.5L445.5 146.3L446.0 150.3L446.5 157.1L447.1 164.5L447.6 167.5L448.1 165.5L448.7 161.5L449.2 157.6L449.7 154.3L450.3 150.8L450.8 147.3L451.3 144.0L451.9 141.0L452.4 138.5L452.9 135.8L453.5 133.4L454.0 131.7L454.5 131.1L455.1 130.9L455.6 130.8L456.1 130.7L456.7 130.6L457.2 130.5L457.7 130.5L458.3 130.5L458.8 130.7L459.3 131.2L459.9 131.7L460.4 132.1L460.9 132.1L461.5 132.2L462.0 132.2L462.5 132.2L463.1 132.3L463.6 132.3L464.7 132.3L465.7 132.3L466.8 132.3L467.9 132.4L468.9 132.5L470.0 132.7L471.1 133.3L472.1 134.1L473.2 135.1L474.3 136.2L475.3 137.4L476.4 138.5L477.5 139.7L478.5 141.4L479.6 143.3L480.7 145.3L481.7 147.1L482.8 148.5L483.9 149.3L484.9 149.2L486.0 148.7L487.1 147.9L488.1 146.8L489.2 145.5L490.2 144.3L491.3 143.1L492.4 141.9L493.4 140.6L494.5 139.2L495.6 137.7L496.6 136.2L497.7 134.6L498.8 133.1L499.8 131.5L500.9 129.9L502.0 128.4L503.0 126.9L504.1 125.3L505.2 123.6L506.2 122.1L507.3 120.6L508.4 119.2L509.4 117.9L510.5 116.7L511.6 115.5L512.6 114.4L513.7 113.3L514.8 112.3L515.8 111.4L516.9 110.5L518.0 109.7L519.0 108.9L520.1 108.2L521.2 107.6L522.2 106.9L523.3 106.3L524.4 105.7L525.4 105.1L526.5 104.6L527.6 104.0L528.6 103.4L529.7 102.8L530.8 102.2L531.8 101.6L532.9 101.0L534.0 100.4L535.0 99.9L536.1 99.3L537.2 98.8L538.2 98.3L539.3 97.8L540.4 97.3L541.4 96.8L542.5 96.3L543.5 96.0L544.6 95.7L545.7 95.7L546.7 95.8L547.8 96.2L548.9 96.6L549.9 97.2L551.0 97.9L552.1 98.7L553.1 99.6L554.2 101.0L555.3 102.6L556.3 104.4L557.4 106.3L558.5 108.3L559.5 110.7L560.6 113.2L561.7 115.9L562.7 118.8L563.8 121.8L564.9 125.1L565.9 128.6L567.0 132.2L568.1 135.9L569.1 139.7L570.2 143.4L571.3 147.0L572.3 150.5L573.4 153.9L574.5 157.2L575.5 160.3L576.6 163.1L577.7 165.8L578.7 168.3L579.8 170.8L580.9 173.2L581.9 175.5L583.0 177.8L584.1 180.1L585.1 182.2L586.2 184.1L587.3 186.0L588.3 187.8L589.4 189.4L590.5 191.0L591.5 192.3L592.6 193.5L593.7 194.6L594.7 195.7L595.8 196.7L596.9 197.6L597.9 198.4L599.0 199.1L600.0 199.7L601.1 200.2L602.2 200.7L603.2 201.1L604.3 201.5L605.4 201.9L606.4 202.2L607.5 202.5L608.6 202.8L609.6 203.1L610.7 203.3L611.8 203.6L612.8 203.8L613.9 204.1L615.0 204.3L616.0 204.5L617.1 204.7L618.2 204.9L619.2 205.1L620.3 205.3L621.4 205.5L622.4 205.7L623.5 205.9L625.6 206.2L627.8 206.5L629.9 206.8L632.0 207.0L634.2 207.2L636.3 207.4L638.4 207.5L640.6 207.7L642.7 207.8L644.8 208.0L647.0 208.1L649.1 208.3L651.2 208.4L653.3 208.6L655.5 208.7L657.6 208.8L659.7 208.9L661.9 209.0L664.0 209.1L666.1 209.1L668.3 209.2L670.4 209.2L672.5 209.3L674.7 209.3L676.8 209.3" stroke="#2ad86a"/></g><line x1="410.3" y1="216.6" x2="677.4" y2="216.6" stroke="#2b2b2b" stroke-width="1.6"/><line x1="410.3" y1="1.5" x2="410.3" y2="217.4" stroke="#2b2b2b" stroke-width="1.6"/><line x1="410.3" y1="1.5" x2="676.8" y2="1.5" stroke="#2b2b2b" stroke-width="1.2"/><line x1="676.8" y1="1.5" x2="676.8" y2="216.6" stroke="#2b2b2b" stroke-width="1.2"/><path d="M410.30 216.6V220.6M463.60 216.6V220.6M516.90 216.6V220.6M570.20 216.6V220.6M623.50 216.6V220.6M676.80 216.6V220.6M436.95 216.6V218.9M490.25 216.6V218.9M543.55 216.6V218.9M596.85 216.6V218.9M650.15 216.6V218.9M410.3 216.60H405.9M410.3 183.47H405.9M410.3 150.34H405.9M410.3 117.21H405.9M410.3 84.08H405.9M410.3 50.95H405.9M410.3 17.82H405.9M410.3 200.03H407.9M410.3 166.90H407.9M410.3 133.77H407.9M410.3 100.64H407.9M410.3 67.51H407.9M410.3 34.38H407.9" stroke="#2b2b2b" stroke-width="1.2" fill="none"/><g font-family='"Liberation Sans", sans-serif' font-size="9" fill="#333"><text x="403.2" y="219.85" text-anchor="end">0.0</text><text x="403.2" y="186.72" text-anchor="end">0.1</text><text x="403.2" y="153.59" text-anchor="end">0.2</text><text x="403.2" y="120.46" text-anchor="end">0.3</text><text x="403.2" y="87.33" text-anchor="end">0.4</text><text x="403.2" y="54.20" text-anchor="end">0.5</text><text x="403.2" y="21.07" text-anchor="end">0.6</text><text x="410.30" y="231.0" text-anchor="middle">200</text><text x="463.60" y="231.0" text-anchor="middle">300</text><text x="516.90" y="231.0" text-anchor="middle">400</text><text x="570.20" y="231.0" text-anchor="middle">500</text><text x="623.50" y="231.0" text-anchor="middle">600</text><text x="676.80" y="231.0" text-anchor="middle">700</text></g><g font-family='"Liberation Sans", sans-serif' font-size="11" fill="#222"><text x="542.9" y="247.5" text-anchor="middle">Wavelength (nm)</text><text transform="translate(387 108) rotate(-90)" text-anchor="middle">Absorbance (a.u)</text></g><rect x="613.4" y="10.1" width="57.5" height="187.1" fill="#fff" stroke="#cfcfcf" stroke-width="1"/><g font-family='"Liberation Sans", sans-serif' font-size="11.1" fill="#222"><line x1="614.7" y1="17.40" x2="639" y2="17.40" stroke="#111111" stroke-width="1.4"/><text x="641.9" y="21.30">t=0</text><line x1="614.7" y1="30.69" x2="639" y2="30.69" stroke="#ff2a2a" stroke-width="1.4"/><text x="641.9" y="34.59">t=30</text><line x1="614.7" y1="43.98" x2="639" y2="43.98" stroke="#2a2aff" stroke-width="1.4"/><text x="641.9" y="47.88">t=45</text><line x1="614.7" y1="57.27" x2="639" y2="57.27" stroke="#ff2aff" stroke-width="1.4"/><text x="641.9" y="61.17">t=60</text><line x1="614.7" y1="70.56" x2="639" y2="70.56" stroke="#2a9a2a" stroke-width="1.4"/><text x="641.9" y="74.46">t=75</text><line x1="614.7" y1="83.85" x2="639" y2="83.85" stroke="#4a4aa0" stroke-width="1.4"/><text x="641.9" y="87.75">t=90</text><line x1="614.7" y1="97.14" x2="639" y2="97.14" stroke="#9a2aff" stroke-width="1.4"/><text x="641.9" y="101.04">t=105</text><line x1="614.7" y1="110.43" x2="639" y2="110.43" stroke="#9a2a9a" stroke-width="1.4"/><text x="641.9" y="114.33">t=120</text><line x1="614.7" y1="123.72" x2="639" y2="123.72" stroke="#a83838" stroke-width="1.4"/><text x="641.9" y="127.62">t=135</text><line x1="614.7" y1="137.01" x2="639" y2="137.01" stroke="#a8a840" stroke-width="1.4"/><text x="641.9" y="140.91">t=150</text><line x1="614.7" y1="150.30" x2="639" y2="150.30" stroke="#3a6ab8" stroke-width="1.4"/><text x="641.9" y="154.20">t=165</text><line x1="614.7" y1="163.59" x2="639" y2="163.59" stroke="#3a9aa0" stroke-width="1.4"/><text x="641.9" y="167.49">t=180</text><line x1="614.7" y1="176.88" x2="639" y2="176.88" stroke="#a8703a" stroke-width="1.4"/><text x="641.9" y="180.78">t=195</text><line x1="614.7" y1="190.17" x2="639" y2="190.17" stroke="#2ad86a" stroke-width="1.4"/><text x="641.9" y="194.07">t=210</text></g><line x1="61.9" y1="499.5" x2="329.1" y2="499.5" stroke="#2b2b2b" stroke-width="1.6"/><line x1="61.9" y1="284.5" x2="61.9" y2="500.3" stroke="#2b2b2b" stroke-width="1.6"/><line x1="61.9" y1="284.5" x2="328.5" y2="284.5" stroke="#2b2b2b" stroke-width="1.2"/><line x1="328.5" y1="284.5" x2="328.5" y2="499.5" stroke="#2b2b2b" stroke-width="1.2"/><path d="M67.40 499.5V503.5M125.40 499.5V503.5M183.40 499.5V503.5M241.40 499.5V503.5M299.40 499.5V503.5M96.40 499.5V501.8M154.40 499.5V501.8M212.40 499.5V501.8M270.40 499.5V501.8M328.40 499.5V501.8M61.9 485.77H57.5M61.9 458.86H57.5M61.9 431.95H57.5M61.9 405.04H57.5M61.9 378.13H57.5M61.9 351.22H57.5M61.9 324.31H57.5M61.9 297.40H57.5M61.9 472.31H59.6M61.9 445.40H59.6M61.9 418.50H59.6M61.9 391.58H59.6M61.9 364.67H59.6M61.9 337.76H59.6M61.9 310.85H59.6" stroke="#2b2b2b" stroke-width="1.2" fill="none"/><g font-family='"Liberation Sans", sans-serif' font-size="9" fill="#333"><text x="54.8" y="489.02" text-anchor="end">0.3</text><text x="54.8" y="462.11" text-anchor="end">0.4</text><text x="54.8" y="435.20" text-anchor="end">0.5</text><text x="54.8" y="408.29" text-anchor="end">0.6</text><text x="54.8" y="381.38" text-anchor="end">0.7</text><text x="54.8" y="354.47" text-anchor="end">0.8</text><text x="54.8" y="327.56" text-anchor="end">0.9</text><text x="54.8" y="300.65" text-anchor="end">1.0</text><text x="67.40" y="514.0" text-anchor="middle">0</text><text x="125.40" y="514.0" text-anchor="middle">50</text><text x="183.40" y="514.0" text-anchor="middle">100</text><text x="241.40" y="514.0" text-anchor="middle">150</text><text x="299.40" y="514.0" text-anchor="middle">200</text></g><g font-family='"Liberation Sans", sans-serif' font-size="11" fill="#222"><text x="195.5" y="530.8" text-anchor="middle">Time (min)</text><text transform="translate(37.6 391.4) rotate(-90)" text-anchor="middle">C/Co</text></g><polyline points="67.40,297.40 102.20,340.99 119.60,357.41 137.00,373.29 154.40,392.12 171.80,401.81 189.20,414.19 206.60,426.57 224.00,440.29 241.40,452.13 258.80,465.32 276.20,475.28 293.60,483.35 311.00,488.73" fill="none" stroke="#3aa63a" stroke-width="1.3"/><polyline points="67.40,297.40 102.20,303.86 119.60,311.39 137.00,317.58 154.40,324.85 171.80,331.58 189.20,339.11 206.60,349.34 224.00,355.79 241.40,364.41 258.80,387.01 276.20,391.32 293.60,401.54 311.00,410.96" fill="none" stroke="#d23a3a" stroke-width="1.3"/><rect x="65.00" y="295.00" width="4.8" height="4.8" fill="#0b8a0b"/><rect x="99.80" y="338.59" width="4.8" height="4.8" fill="#0b8a0b"/><rect x="117.20" y="355.01" width="4.8" height="4.8" fill="#0b8a0b"/><rect x="134.60" y="370.89" width="4.8" height="4.8" fill="#0b8a0b"/><rect x="152.00" y="389.72" width="4.8" height="4.8" fill="#0b8a0b"/><rect x="169.40" y="399.41" width="4.8" height="4.8" fill="#0b8a0b"/><rect x="186.80" y="411.79" width="4.8" height="4.8" fill="#0b8a0b"/><rect x="204.20" y="424.17" width="4.8" height="4.8" fill="#0b8a0b"/><rect x="221.60" y="437.89" width="4.8" height="4.8" fill="#0b8a0b"/><rect x="239.00" y="449.73" width="4.8" height="4.8" fill="#0b8a0b"/><rect x="256.40" y="462.92" width="4.8" height="4.8" fill="#0b8a0b"/><rect x="273.80" y="472.88" width="4.8" height="4.8" fill="#0b8a0b"/><rect x="291.20" y="480.95" width="4.8" height="4.8" fill="#0b8a0b"/><rect x="308.60" y="486.33" width="4.8" height="4.8" fill="#0b8a0b"/><circle cx="67.40" cy="297.40" r="2.7" fill="#c80e14"/><circle cx="102.20" cy="303.86" r="2.7" fill="#c80e14"/><circle cx="119.60" cy="311.39" r="2.7" fill="#c80e14"/><circle cx="137.00" cy="317.58" r="2.7" fill="#c80e14"/><circle cx="154.40" cy="324.85" r="2.7" fill="#c80e14"/><circle cx="171.80" cy="331.58" r="2.7" fill="#c80e14"/><circle cx="189.20" cy="339.11" r="2.7" fill="#c80e14"/><circle cx="206.60" cy="349.34" r="2.7" fill="#c80e14"/><circle cx="224.00" cy="355.79" r="2.7" fill="#c80e14"/><circle cx="241.40" cy="364.41" r="2.7" fill="#c80e14"/><circle cx="258.80" cy="387.01" r="2.7" fill="#c80e14"/><circle cx="276.20" cy="391.32" r="2.7" fill="#c80e14"/><circle cx="293.60" cy="401.54" r="2.7" fill="#c80e14"/><circle cx="311.00" cy="410.96" r="2.7" fill="#c80e14"/><rect x="254.3" y="301.2" width="55.8" height="29" fill="#fff" stroke="#cfcfcf" stroke-width="1"/><line x1="255.8" y1="308.3" x2="281.1" y2="308.3" stroke="#3aa63a" stroke-width="1.3"/><rect x="266.2" y="305.9" width="4.8" height="4.8" fill="#0b8a0b"/><line x1="255.8" y1="322.1" x2="281.1" y2="322.1" stroke="#d23a3a" stroke-width="1.3"/><circle cx="268.6" cy="322.1" r="2.7" fill="#c80e14"/><g font-family='"Liberation Sans", sans-serif' font-size="11.1" fill="#222"><text x="284.3" y="312.8">NiSe</text><text x="284.3" y="326.6">SS</text></g><defs><linearGradient id="surf" x1="0" y1="0" x2="1" y2="0"><stop offset="0" stop-color="#5c5a56"/><stop offset="0.4" stop-color="#64615c"/><stop offset="0.75" stop-color="#716e67"/><stop offset="1" stop-color="#7a766e"/></linearGradient><linearGradient id="surfv" x1="0" y1="0" x2="0" y2="1"><stop offset="0" stop-color="#ffffff" stop-opacity="0.06"/><stop offset="0.2" stop-color="#ffffff" stop-opacity="0.0"/><stop offset="1" stop-color="#000000" stop-opacity="0.05"/></linearGradient><linearGradient id="wall" x1="0" y1="0" x2="1" y2="0"><stop offset="0" stop-color="#2b2b2b"/><stop offset="0.5" stop-color="#2d2d2c"/><stop offset="1" stop-color="#353432"/></linearGradient><linearGradient id="cap" x1="0" y1="0" x2="1" y2="0"><stop offset="0" stop-color="#cfcdca"/><stop offset="0.08" stop-color="#e2e0dc"/><stop offset="0.3" stop-color="#eceae6"/><stop offset="0.7" stop-color="#eeece8"/><stop offset="0.92" stop-color="#e4e2de"/><stop offset="1" stop-color="#cdcbc8"/></linearGradient><linearGradient id="capv" x1="0" y1="0" x2="0" y2="1"><stop offset="0" stop-color="#ffffff" stop-opacity="0.25"/><stop offset="0.15" stop-color="#ffffff" stop-opacity="0.0"/><stop offset="0.85" stop-color="#000000" stop-opacity="0.0"/><stop offset="1" stop-color="#000000" stop-opacity="0.12"/></linearGradient><linearGradient id="glass" x1="0" y1="0" x2="1" y2="0"><stop offset="0" stop-color="#4a4a4a"/><stop offset="0.04" stop-color="#606060"/><stop offset="0.1" stop-color="#393939"/><stop offset="0.28" stop-color="#3e3e3e"/><stop offset="0.34" stop-color="#5a5a5a"/><stop offset="0.4" stop-color="#454545"/><stop offset="0.55" stop-color="#3c3c3c"/><stop offset="0.75" stop-color="#363636"/><stop offset="0.92" stop-color="#383838"/><stop offset="0.96" stop-color="#555555"/><stop offset="1" stop-color="#3a3a3a"/></linearGradient><linearGradient id="glass2" x1="0" y1="0" x2="1" y2="0"><stop offset="0" stop-color="#5a5a5a"/><stop offset="0.04" stop-color="#858585"/><stop offset="0.1" stop-color="#505050"/><stop offset="0.28" stop-color="#5c5c5c"/><stop offset="0.34" stop-color="#8a8a8a"/><stop offset="0.4" stop-color="#626262"/><stop offset="0.55" stop-color="#575757"/><stop offset="0.75" stop-color="#505050"/><stop offset="0.92" stop-color="#525252"/><stop offset="0.96" stop-color="#727272"/><stop offset="1" stop-color="#4a4a4a"/></linearGradient><linearGradient id="amberV" x1="0" y1="0" x2="0" y2="1"><stop offset="0" stop-color="#f4c848"/><stop offset="0.03" stop-color="#eaae22"/><stop offset="0.07" stop-color="#d8921a"/><stop offset="0.1" stop-color="#e6a420"/><stop offset="0.125" stop-color="#b47c16"/><stop offset="0.14" stop-color="#9c6a16"/><stop offset="0.4" stop-color="#946618"/><stop offset="0.66" stop-color="#8a641c"/><stop offset="0.685" stop-color="#50401a"/><stop offset="0.71" stop-color="#705a28"/><stop offset="0.8" stop-color="#74602c"/><stop offset="0.83" stop-color="#cc9e2e"/><stop offset="0.92" stop-color="#d8a836"/><stop offset="0.97" stop-color="#caa030"/><stop offset="1" stop-color="#9a7624"/></linearGradient><linearGradient id="clearV" x1="0" y1="0" x2="0" y2="1"><stop offset="0" stop-color="#d8d8c0"/><stop offset="0.03" stop-color="#a8a892"/><stop offset="0.08" stop-color="#7e7e6c"/><stop offset="0.4" stop-color="#747466"/><stop offset="0.66" stop-color="#6c6c5e"/><stop offset="0.685" stop-color="#383830"/><stop offset="0.71" stop-color="#4e4e44"/><stop offset="0.82" stop-color="#525248"/><stop offset="0.85" stop-color="#acaa94"/><stop offset="0.93" stop-color="#bebca4"/><stop offset="1" stop-color="#9e9c88"/></linearGradient><linearGradient id="liqH" x1="0" y1="0" x2="1" y2="0"><stop offset="0" stop-color="#000000" stop-opacity="0.3"/><stop offset="0.04" stop-color="#fff0c0" stop-opacity="0.12"/><stop offset="0.12" stop-color="#ffe0a0" stop-opacity="0.16"/><stop offset="0.3" stop-color="#ffffff" stop-opacity="0.06"/><stop offset="0.5" stop-color="#000000" stop-opacity="0.0"/><stop offset="0.7" stop-color="#202010" stop-opacity="0.2"/><stop offset="0.9" stop-color="#202010" stop-opacity="0.35"/><stop offset="0.97" stop-color="#000000" stop-opacity="0.4"/><stop offset="1" stop-color="#000000" stop-opacity="0.5"/></linearGradient><filter id="pblur" x="-5%" y="-5%" width="110%" height="110%"><feGaussianBlur stdDeviation="0.9"/></filter><filter id="hblur" x="-20%" y="-20%" width="140%" height="140%"><feGaussianBlur stdDeviation="1.5"/></filter><clipPath id="photoclip"><rect x="393.4" y="282.7" width="284.1" height="215.2"/></clipPath></defs><rect x="393.4" y="282.7" width="284.1" height="215.2" fill="url(#wall)"/><polygon points="393.4,448.6 677.5,446.9 677.5,457.6 393.4,459.2" fill="#030303"/><polygon points="393.4,459.2 677.5,457.6 677.5,497.9 393.4,497.9" fill="url(#surf)"/><polygon points="393.4,459.2 677.5,457.6 677.5,497.9 393.4,497.9" fill="url(#surfv)"/><g clip-path="url(#photoclip)"><g><rect x="461.5" y="399.7" width="1" height="1" fill="#fff" opacity="0.14"/><rect x="564.8" y="417.1" width="1" height="1" fill="#fff" opacity="0.09"/><rect x="398.1" y="462.2" width="1" height="1" fill="#fff" opacity="0.12"/><rect x="460.5" y="496.0" width="1" height="1" fill="#fff" opacity="0.16"/><rect x="630.4" y="385.3" width="1" height="1" fill="#fff" opacity="0.19"/><rect x="436.9" y="419.1" width="1" height="1" fill="#fff" opacity="0.23"/><rect x="542.0" y="441.7" width="1" height="1" fill="#fff" opacity="0.19"/><rect x="412.5" y="445.4" width="1" height="1" fill="#fff" opacity="0.18"/><rect x="479.4" y="290.3" width="1" height="1" fill="#fff" opacity="0.23"/><rect x="527.8" y="437.0" width="1" height="1" fill="#fff" opacity="0.23"/><rect x="595.9" y="480.1" width="1" height="1" fill="#fff" opacity="0.15"/><rect x="620.3" y="378.5" width="1" height="1" fill="#fff" opacity="0.24"/><rect x="642.3" y="304.5" width="1" height="1" fill="#fff" opacity="0.10"/><rect x="455.6" y="489.5" width="1" height="1" fill="#fff" opacity="0.15"/><rect x="571.2" y="347.9" width="1" height="1" fill="#fff" opacity="0.17"/><rect x="503.3" y="358.5" width="1" height="1" fill="#fff" opacity="0.18"/><rect x="559.2" y="476.5" width="1" height="1" fill="#fff" opacity="0.20"/><rect x="656.5" y="466.3" width="1" height="1" fill="#fff" opacity="0.25"/><rect x="583.8" y="318.5" width="1" height="1" fill="#fff" opacity="0.23"/><rect x="666.5" y="476.6" width="1" height="1" fill="#fff" opacity="0.18"/><rect x="595.8" y="328.7" width="1" height="1" fill="#fff" opacity="0.22"/><rect x="556.2" y="344.5" width="1" height="1" fill="#fff" opacity="0.09"/><rect x="635.3" y="494.7" width="1" height="1" fill="#fff" opacity="0.10"/><rect x="620.2" y="371.2" width="1" height="1" fill="#fff" opacity="0.11"/><rect x="640.6" y="293.1" width="1" height="1" fill="#fff" opacity="0.18"/><rect x="407.1" y="436.9" width="1" height="1" fill="#fff" opacity="0.14"/><rect x="642.9" y="492.8" width="1" height="1" fill="#fff" opacity="0.17"/><rect x="676.1" y="349.7" width="1" height="1" fill="#fff" opacity="0.09"/><rect x="563.6" y="290.4" width="1" height="1" fill="#fff" opacity="0.11"/><rect x="509.5" y="413.9" width="1" height="1" fill="#fff" opacity="0.11"/><rect x="406.4" y="468.7" width="1" height="1" fill="#fff" opacity="0.13"/><rect x="664.8" y="474.9" width="1" height="1" fill="#fff" opacity="0.14"/><rect x="524.3" y="394.6" width="1" height="1" fill="#fff" opacity="0.19"/><rect x="562.4" y="402.9" width="1" height="1" fill="#fff" opacity="0.19"/><rect x="659.7" y="391.8" width="1" height="1" fill="#fff" opacity="0.15"/><rect x="597.6" y="334.4" width="1" height="1" fill="#fff" opacity="0.13"/><rect x="670.2" y="394.8" width="1" height="1" fill="#fff" opacity="0.17"/><rect x="397.6" y="372.2" width="1" height="1" fill="#fff" opacity="0.18"/><rect x="400.1" y="415.0" width="1" height="1" fill="#fff" opacity="0.19"/><rect x="411.3" y="417.4" width="1" height="1" fill="#fff" opacity="0.16"/><rect x="586.0" y="358.9" width="1" height="1" fill="#fff" opacity="0.20"/><rect x="602.6" y="288.4" width="1" height="1" fill="#fff" opacity="0.09"/><rect x="585.1" y="489.1" width="1" height="1" fill="#fff" opacity="0.12"/><rect x="523.1" y="410.1" width="1" height="1" fill="#fff" opacity="0.13"/><rect x="497.1" y="350.4" width="1" height="1" fill="#fff" opacity="0.14"/><rect x="562.4" y="347.7" width="1" height="1" fill="#fff" opacity="0.14"/><rect x="612.3" y="289.4" width="1" height="1" fill="#fff" opacity="0.18"/><rect x="601.8" y="349.8" width="1" height="1" fill="#fff" opacity="0.12"/><rect x="621.2" y="334.6" width="1" height="1" fill="#fff" opacity="0.11"/><rect x="517.2" y="432.5" width="1" height="1" fill="#fff" opacity="0.10"/><rect x="485.2" y="354.9" width="1" height="1" fill="#fff" opacity="0.22"/><rect x="518.1" y="466.1" width="1" height="1" fill="#fff" opacity="0.11"/><rect x="489.4" y="422.3" width="1" height="1" fill="#fff" opacity="0.23"/><rect x="521.7" y="331.7" width="1" height="1" fill="#fff" opacity="0.10"/><rect x="543.8" y="324.4" width="1" height="1" fill="#fff" opacity="0.22"/><rect x="630.9" y="322.8" width="1" height="1" fill="#fff" opacity="0.13"/><rect x="622.1" y="420.6" width="1" height="1" fill="#fff" opacity="0.22"/><rect x="491.8" y="311.3" width="1" height="1" fill="#fff" opacity="0.13"/><rect x="618.3" y="341.5" width="1" height="1" fill="#fff" opacity="0.14"/><rect x="512.0" y="373.2" width="1" height="1" fill="#fff" opacity="0.15"/><rect x="654.1" y="317.0" width="1" height="1" fill="#fff" opacity="0.08"/><rect x="660.5" y="471.3" width="1" height="1" fill="#fff" opacity="0.25"/><rect x="516.9" y="486.3" width="1" height="1" fill="#fff" opacity="0.24"/><rect x="457.1" y="442.6" width="1" height="1" fill="#fff" opacity="0.22"/><rect x="581.4" y="394.4" width="1" height="1" fill="#fff" opacity="0.13"/><rect x="490.6" y="332.2" width="1" height="1" fill="#fff" opacity="0.09"/><rect x="560.5" y="344.9" width="1" height="1" fill="#fff" opacity="0.22"/><rect x="407.1" y="476.3" width="1" height="1" fill="#fff" opacity="0.20"/><rect x="655.0" y="474.8" width="1" height="1" fill="#fff" opacity="0.23"/><rect x="557.2" y="286.5" width="1" height="1" fill="#fff" opacity="0.21"/><rect x="442.9" y="347.6" width="1" height="1" fill="#fff" opacity="0.19"/><rect x="542.5" y="371.9" width="1" height="1" fill="#fff" opacity="0.24"/><rect x="567.1" y="356.5" width="1" height="1" fill="#fff" opacity="0.12"/><rect x="637.5" y="385.4" width="1" height="1" fill="#fff" opacity="0.21"/><rect x="493.7" y="325.8" width="1" height="1" fill="#fff" opacity="0.17"/><rect x="624.8" y="320.2" width="1" height="1" fill="#fff" opacity="0.21"/><rect x="626.7" y="285.3" width="1" height="1" fill="#fff" opacity="0.19"/><rect x="637.7" y="294.3" width="1" height="1" fill="#fff" opacity="0.13"/><rect x="470.2" y="396.1" width="1" height="1" fill="#fff" opacity="0.15"/><rect x="394.9" y="295.4" width="1" height="1" fill="#fff" opacity="0.10"/><rect x="429.6" y="298.3" width="1" height="1" fill="#fff" opacity="0.25"/><rect x="635.4" y="302.1" width="1" height="1" fill="#fff" opacity="0.17"/><rect x="483.5" y="350.8" width="1" height="1" fill="#fff" opacity="0.14"/><rect x="576.9" y="408.8" width="1" height="1" fill="#fff" opacity="0.14"/><rect x="448.3" y="353.8" width="1" height="1" fill="#fff" opacity="0.10"/><rect x="551.1" y="436.4" width="1" height="1" fill="#fff" opacity="0.14"/><rect x="416.9" y="321.8" width="1" height="1" fill="#fff" opacity="0.14"/><path d="M438.4 352 Q438.4 342 446.4 340.5 L506.0 340.5 Q514.0 342 514.0 352 L514.0 472.6 Q514.0 477.6 507.0 477.6 L445.4 477.6 Q438.4 477.6 438.4 472.6 Z" fill="url(#glass)"/><path d="M441.4 349 Q442.4 343 448.4 342.5 L504.0 342.5 Q510.0 343 511.0 349" stroke="#9a9a9a" stroke-width="1" fill="none" opacity="0.6"/><g filter="url(#hblur)"><rect x="444.4" y="350.5" width="63.60000000000002" height="3" rx="1.5" fill="#c8d0e0" opacity="0.4"/><rect x="461.1" y="347" width="6" height="38.6" fill="#d0d0d0" opacity="0.22"/><rect x="476.2" y="352" width="4" height="32.6" fill="#d0d0d0" opacity="0.15"/></g><rect x="442.4" y="380.6" width="67.60000000000002" height="2" fill="#8a8a8a" opacity="0.35"/><path d="M446.0 338 L503.9 338 L501.9 346 L448.0 346 Z" fill="#a89064" opacity="0.85"/><path d="M438.79999999999995 388.6 L513.6 388.6 L513.6 472.6 Q513.6 477.6 507.0 477.6 L445.4 477.6 Q438.79999999999995 477.6 438.79999999999995 472.6 Z" fill="url(#amberV)"/><path d="M438.79999999999995 388.6 L513.6 388.6 L513.6 472.6 Q513.6 477.6 507.0 477.6 L445.4 477.6 Q438.79999999999995 477.6 438.79999999999995 472.6 Z" fill="url(#liqH)"/><path d="M462 437 q3 -4 7 -1 q-1 3 -7 6 l8 0 M473 433 l-3 6 l8 0 M477 432 l0 10" stroke="#241a08" stroke-width="1.1" fill="none" opacity="0.7"/><path d="M489 435 q6 -2 12 0 l4 -3 M496 431 l5 6 M505 428 l5 -3" stroke="#2a2008" stroke-width="1" fill="none" opacity="0.6"/><path d="M440.0 308.5 Q440.0 304.3 445.0 304.3 L504.9 304.3 Q509.9 304.3 509.9 308.5 L509.9 339.2 L440.0 339.2 Z" fill="url(#cap)"/><path d="M440.0 308.5 Q440.0 304.3 445.0 304.3 L504.9 304.3 Q509.9 304.3 509.9 308.5 L509.9 339.2 L440.0 339.2 Z" fill="url(#capv)"/><line x1="441.0" y1="309.3" x2="508.9" y2="309.3" stroke="#c8c6c2" stroke-width="0.8"/><line x1="447.0" y1="310" x2="447.8" y2="327.0" stroke="#d4d2ce" stroke-width="0.5"/><line x1="448.7" y1="310" x2="449.5" y2="326.1" stroke="#d4d2ce" stroke-width="0.5"/><line x1="450.4" y1="310" x2="451.2" y2="325.2" stroke="#d4d2ce" stroke-width="0.5"/><line x1="452.1" y1="310" x2="452.9" y2="324.3" stroke="#d4d2ce" stroke-width="0.5"/><line x1="453.8" y1="310" x2="454.6" y2="323.4" stroke="#d4d2ce" stroke-width="0.5"/><line x1="455.5" y1="310" x2="456.3" y2="322.5" stroke="#d4d2ce" stroke-width="0.5"/><line x1="457.2" y1="310" x2="458.0" y2="321.6" stroke="#d4d2ce" stroke-width="0.5"/><line x1="458.9" y1="310" x2="459.7" y2="320.7" stroke="#d4d2ce" stroke-width="0.5"/><line x1="460.6" y1="310" x2="461.4" y2="319.8" stroke="#d4d2ce" stroke-width="0.5"/><line x1="462.3" y1="310" x2="463.1" y2="318.9" stroke="#d4d2ce" stroke-width="0.5"/><line x1="464.0" y1="310" x2="464.8" y2="318.0" stroke="#d4d2ce" stroke-width="0.5"/><line x1="465.7" y1="310" x2="466.5" y2="317.1" stroke="#d4d2ce" stroke-width="0.5"/><line x1="467.4" y1="310" x2="468.2" y2="316.2" stroke="#d4d2ce" stroke-width="0.5"/><line x1="469.1" y1="310" x2="469.9" y2="315.3" stroke="#d4d2ce" stroke-width="0.5"/><line x1="470.8" y1="310" x2="471.6" y2="314.4" stroke="#d4d2ce" stroke-width="0.5"/><line x1="472.5" y1="310" x2="473.3" y2="313.5" stroke="#d4d2ce" stroke-width="0.5"/><rect x="440.0" y="336.8" width="69.89999999999998" height="2.4" fill="#cbc9c5"/><path d="M553.6 352 Q553.6 342 561.6 340.5 L620.6 340.5 Q628.6 342 628.6 352 L628.6 471.6 Q628.6 476.6 621.6 476.6 L560.6 476.6 Q553.6 476.6 553.6 471.6 Z" fill="url(#glass2)"/><path d="M556.6 349 Q557.6 343 563.6 342.5 L618.6 342.5 Q624.6 343 625.6 349" stroke="#9a9a9a" stroke-width="1" fill="none" opacity="0.6"/><g filter="url(#hblur)"><rect x="559.6" y="350.5" width="63.0" height="3" rx="1.5" fill="#c8d0e0" opacity="0.4"/><rect x="576.1" y="347" width="6" height="35.4" fill="#d0d0d0" opacity="0.22"/><rect x="591.1" y="352" width="4" height="29.4" fill="#d0d0d0" opacity="0.15"/></g><rect x="557.6" y="377.4" width="67.0" height="2" fill="#8a8a8a" opacity="0.35"/><path d="M562.8 338 L620.5 338 L618.5 346 L564.8 346 Z" fill="#8c8c82" opacity="0.85"/><path d="M554.0 385.4 L628.2 385.4 L628.2 471.6 Q628.2 476.6 621.6 476.6 L560.6 476.6 Q554.0 476.6 554.0 471.6 Z" fill="url(#clearV)"/><path d="M554.0 385.4 L628.2 385.4 L628.2 471.6 Q628.2 476.6 621.6 476.6 L560.6 476.6 Q554.0 476.6 554.0 471.6 Z" fill="url(#liqH)"/><path d="M566 417 q-6 -2 -8 4 q0 5 5 4 q4 -1 3 -4 q-2 -3 -7 -1" stroke="#1c1c18" stroke-width="1.2" fill="none" opacity="0.6"/><path d="M580 420 l3 6 l3 -7 M589 416 l0 10 M589 421 q4 -3 6 1 l0 4 M598 424 q4 1 6 -2 l2 -9 q8 -3 14 2 q4 4 -2 8 q-8 3 -14 0" stroke="#1c1c18" stroke-width="1.1" fill="none" opacity="0.6"/><path d="M563 372 q2 -5 4 0 q2 4 4 0 l0 -5 M573 371 q3 -3 5 0 l0 3 M580 366 l0 8 q3 -3 5 0 l0 3 M588 366 l0 8 q4 -3 5 1 q-2 3 -5 0 M596 372 q3 -3 5 0 q-2 3 -5 1 M603 366 l0 8 q-3 1 -4 -2 M609 370 q4 -5 8 0 q-3 5 -8 1 M618 368 q2 4 -1 8" stroke="#222220" stroke-width="0.9" fill="none" opacity="0.45"/><path d="M556.8 308.5 Q556.8 304.3 561.8 304.3 L621.5 304.3 Q626.5 304.3 626.5 308.5 L626.5 339.2 L556.8 339.2 Z" fill="url(#cap)"/><path d="M556.8 308.5 Q556.8 304.3 561.8 304.3 L621.5 304.3 Q626.5 304.3 626.5 308.5 L626.5 339.2 L556.8 339.2 Z" fill="url(#capv)"/><line x1="557.8" y1="309.3" x2="625.5" y2="309.3" stroke="#c8c6c2" stroke-width="0.8"/><line x1="563.8" y1="310" x2="564.6" y2="327.0" stroke="#d4d2ce" stroke-width="0.5"/><line x1="565.5" y1="310" x2="566.3" y2="326.1" stroke="#d4d2ce" stroke-width="0.5"/><line x1="567.2" y1="310" x2="568.0" y2="325.2" stroke="#d4d2ce" stroke-width="0.5"/><line x1="568.9" y1="310" x2="569.7" y2="324.3" stroke="#d4d2ce" stroke-width="0.5"/><line x1="570.6" y1="310" x2="571.4" y2="323.4" stroke="#d4d2ce" stroke-width="0.5"/><line x1="572.3" y1="310" x2="573.1" y2="322.5" stroke="#d4d2ce" stroke-width="0.5"/><line x1="574.0" y1="310" x2="574.8" y2="321.6" stroke="#d4d2ce" stroke-width="0.5"/><line x1="575.7" y1="310" x2="576.5" y2="320.7" stroke="#d4d2ce" stroke-width="0.5"/><line x1="577.4" y1="310" x2="578.2" y2="319.8" stroke="#d4d2ce" stroke-width="0.5"/><line x1="579.1" y1="310" x2="579.9" y2="318.9" stroke="#d4d2ce" stroke-width="0.5"/><line x1="580.8" y1="310" x2="581.6" y2="318.0" stroke="#d4d2ce" stroke-width="0.5"/><line x1="582.5" y1="310" x2="583.3" y2="317.1" stroke="#d4d2ce" stroke-width="0.5"/><line x1="584.2" y1="310" x2="585.0" y2="316.2" stroke="#d4d2ce" stroke-width="0.5"/><line x1="585.9" y1="310" x2="586.7" y2="315.3" stroke="#d4d2ce" stroke-width="0.5"/><line x1="587.6" y1="310" x2="588.4" y2="314.4" stroke="#d4d2ce" stroke-width="0.5"/><line x1="589.3" y1="310" x2="590.1" y2="313.5" stroke="#d4d2ce" stroke-width="0.5"/><rect x="556.8" y="336.8" width="69.70000000000005" height="2.4" fill="#cbc9c5"/></g></g></g></svg>
</body></html>
